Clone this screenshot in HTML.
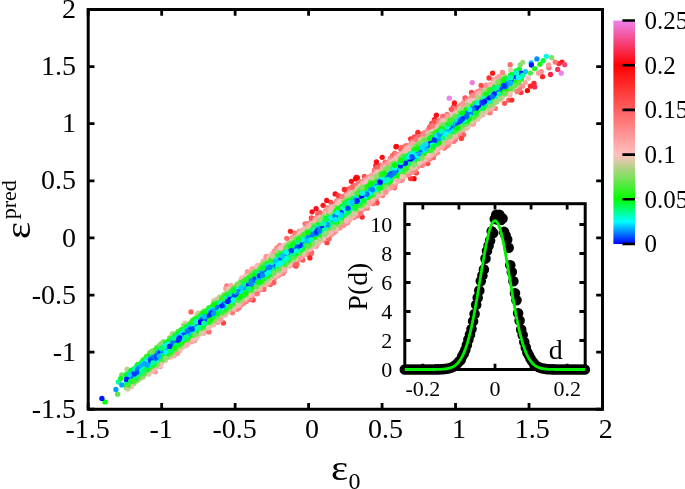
<!DOCTYPE html>
<html><head><meta charset="utf-8"><title>plot</title>
<style>html,body{margin:0;padding:0;background:#fff;overflow:hidden}svg{display:block}</style>
</head><body>
<svg width="685" height="489" viewBox="0 0 685 489">
<rect x="0" y="0" width="685" height="489" fill="#fff"/>
<defs><filter id="sf" x="0" y="0" width="685" height="489" filterUnits="userSpaceOnUse"><feGaussianBlur stdDeviation="0.45"/></filter></defs><g fill="none" stroke-width="5.3" stroke-linecap="round" filter="url(#sf)">
<path d="M477.5 119.2h0" stroke="#ffaeae"/>
<path d="M286.1 244.4h0" stroke="#ecc5b2"/>
<path d="M198.3 312.8h0" stroke="#eac5b0"/>
<path d="M305.1 223.8h0" stroke="#ff6464"/>
<path d="M339.2 197.9h0" stroke="#ff6e6e"/>
<path d="M126.5 378.4h0" stroke="#0065ff"/>
<path d="M205.0 310.8h0" stroke="#57ea41"/>
<path d="M240.1 282.1h0" stroke="#97da72"/>
<path d="M202.0 312.9h0" stroke="#63e64b"/>
<path d="M346.3 193.3h0" stroke="#ff7e7e"/>
<path d="M160.3 366.6h0" stroke="#ff9f9f"/>
<path d="M396.4 146.3h0" stroke="#fd0d18"/>
<path d="M531.1 62.8h0" stroke="#00c4ff"/>
<path d="M213.7 300.6h0" stroke="#f0c4b5"/>
<path d="M479.1 116.7h0" stroke="#f5c2b9"/>
<path d="M117.6 394.2h0" stroke="#5de846"/>
<path d="M562.0 62.1h0" stroke="#ff1d1d"/>
<path d="M450.7 140.9h0" stroke="#ff9e9e"/>
<path d="M363.4 209.1h0" stroke="#f99"/>
<path d="M510.4 74.8h0" stroke="#1bf814"/>
<path d="M427.4 131.0h0" stroke="#ff8b8b"/>
<path d="M422.9 133.7h0" stroke="#ff7c7c"/>
<path d="M213.3 303.6h0" stroke="#78e15a"/>
<path d="M396.0 146.8h0" stroke="#fe070d"/>
<path d="M347.7 189.4h0" stroke="#ff5050"/>
<path d="M357.3 177.7h0" stroke="#ff0707"/>
<path d="M411.4 143.4h0" stroke="#ff8a8a"/>
<path d="M437.6 152.4h0" stroke="#ff8989"/>
<path d="M364.4 176.5h0" stroke="#ff5050"/>
<path d="M510.7 70.1h0" stroke="#e1c7aa"/>
<path d="M401.8 147.4h0" stroke="#ff5151"/>
<path d="M289.7 265.7h0" stroke="#ffa4a4"/>
<path d="M431.8 123.3h0" stroke="#ff4242"/>
<path d="M445.4 147.2h0" stroke="#ff7b7b"/>
<path d="M510.6 90.7h0" stroke="#b6d289"/>
<path d="M440.0 120.2h0" stroke="#ff7979"/>
<path d="M467.9 126.8h0" stroke="#ffabab"/>
<path d="M134.3 368.6h0" stroke="#00ff52"/>
<path d="M416.4 172.9h0" stroke="#ff4545"/>
<path d="M308.5 223.9h0" stroke="#ff9393"/>
<path d="M434.5 119.4h0" stroke="#ff2424"/>
<path d="M496.7 101.9h0" stroke="#c7ce96"/>
<path d="M369.6 203.6h0" stroke="#ffa5a5"/>
<path d="M170.9 357.0h0" stroke="#ffb6b6"/>
<path d="M401.2 153.3h0" stroke="#ffabab"/>
<path d="M192.4 320.5h0" stroke="#5de846"/>
<path d="M508.7 100.1h0" stroke="#ff5656"/>
<path d="M270.4 284.5h0" stroke="#ff6464"/>
<path d="M515.2 82.8h0" stroke="#00ff14"/>
<path d="M531.4 65.0h0" stroke="#0015ff"/>
<path d="M214.7 302.2h0" stroke="#87de66"/>
<path d="M333.6 204.5h0" stroke="#ff9494"/>
<path d="M336.6 200.9h0" stroke="#ff7f7f"/>
<path d="M474.1 120.5h0" stroke="#f7c2ba"/>
<path d="M292.4 264.4h0" stroke="#ff9696"/>
<path d="M308.1 254.6h0" stroke="#ff6f6f"/>
<path d="M289.0 266.0h0" stroke="#ffa9a9"/>
<path d="M126.4 387.7h0" stroke="#6ee453"/>
<path d="M137.5 380.3h0" stroke="#a1d77a"/>
<path d="M118.3 382.0h0" stroke="#00ffa6"/>
<path d="M449.3 98.2h0" stroke="#ee82ee"/>
<path d="M142.5 361.2h0" stroke="#06fd05"/>
<path d="M542.5 76.7h0" stroke="#ff2626"/>
<path d="M241.2 278.8h0" stroke="#ffbebe"/>
<path d="M436.4 115.2h0" stroke="#fd0d18"/>
<path d="M284.7 270.9h0" stroke="#ff8e8e"/>
<path d="M332.6 204.8h0" stroke="#ff8c8c"/>
<path d="M126.5 375.6h0" stroke="#00ffa7"/>
<path d="M382.2 157.3h0" stroke="#fd0d18"/>
<path d="M353.6 217.7h0" stroke="#ff8787"/>
<path d="M311.1 221.2h0" stroke="#ff8686"/>
<path d="M188.4 343.0h0" stroke="#ffbcbc"/>
<path d="M356.9 216.0h0" stroke="#ff7878"/>
<path d="M299.0 231.4h0" stroke="#ff9494"/>
<path d="M344.3 189.5h0" stroke="#ff2525"/>
<path d="M253.0 294.8h0" stroke="#ff9c9c"/>
<path d="M226.7 286.0h0" stroke="#ff7979"/>
<path d="M155.2 371.8h0" stroke="#ff8a8a"/>
<path d="M486.2 85.2h0" stroke="#f88"/>
<path d="M390.6 158.2h0" stroke="#ff7373"/>
<path d="M392.4 155.6h0" stroke="#ff6060"/>
<path d="M115.9 389.5h0" stroke="#009fff"/>
<path d="M312.8 246.7h0" stroke="#ffb5b5"/>
<path d="M488.5 112.3h0" stroke="#ff9191"/>
<path d="M473.6 122.9h0" stroke="#ffa2a2"/>
<path d="M521.6 73.1h0" stroke="#0040ff"/>
<path d="M177.9 331.7h0" stroke="#5de846"/>
<path d="M194.7 340.4h0" stroke="#ff9595"/>
<path d="M179.8 350.6h0" stroke="#ffaeae"/>
<path d="M261.1 289.5h0" stroke="#ff8a8a"/>
<path d="M513.8 89.2h0" stroke="#e5c7ac"/>
<path d="M525.3 82.6h0" stroke="#ffa4a4"/>
<path d="M516.1 70.8h0" stroke="#06fd05"/>
<path d="M177.9 349.9h0" stroke="#d2cb9e"/>
<path d="M167.1 341.8h0" stroke="#14fa0f"/>
<path d="M266.7 284.3h0" stroke="#f99"/>
<path d="M213.6 304.8h0" stroke="#3af12b"/>
<path d="M394.7 153.5h0" stroke="#ff5a5a"/>
<path d="M137.4 364.9h0" stroke="#10fb0c"/>
<path d="M441.2 120.3h0" stroke="#ff8b8b"/>
<path d="M517.4 79.0h0" stroke="#00ffd6"/>
<path d="M519.4 69.1h0" stroke="#00ff40"/>
<path d="M213.7 324.5h0" stroke="#faa"/>
<path d="M313.5 222.1h0" stroke="#ffb6b6"/>
<path d="M530.4 86.2h0" stroke="#ff2525"/>
<path d="M410.6 138.9h0" stroke="#f33"/>
<path d="M517.8 84.5h0" stroke="#9cd975"/>
<path d="M455.0 107.0h0" stroke="#ff6161"/>
<path d="M104.9 401.9h0" stroke="#00ff07"/>
<path d="M306.1 226.0h0" stroke="#ff9797"/>
<path d="M390.1 160.4h0" stroke="#ff9292"/>
<path d="M511.6 79.2h0" stroke="#05f"/>
<path d="M466.5 128.0h0" stroke="#ffa8a8"/>
<path d="M528.2 78.2h0" stroke="#eac5b0"/>
<path d="M520.2 64.8h0" stroke="#86de65"/>
<path d="M225.7 288.6h0" stroke="#f99"/>
<path d="M558.8 63.6h0" stroke="#ff2e2e"/>
<path d="M182.2 347.6h0" stroke="#fec0bf"/>
<path d="M536.9 58.9h0" stroke="#008eff"/>
<path d="M527.4 90.6h0" stroke="#ff0202"/>
<path d="M272.2 254.0h0" stroke="#ffb2b2"/>
<path d="M289.6 265.4h0" stroke="#faa"/>
<path d="M411.9 141.5h0" stroke="#ff7171"/>
<path d="M463.3 102.8h0" stroke="#ff8585"/>
<path d="M405.6 175.4h0" stroke="#ffa9a9"/>
<path d="M274.6 255.9h0" stroke="#7ce05d"/>
<path d="M402.5 179.5h0" stroke="#ff8c8c"/>
<path d="M444.4 148.0h0" stroke="#ff7a7a"/>
<path d="M127.1 369.2h0" stroke="#b7d28a"/>
<path d="M232.5 312.8h0" stroke="#ff7878"/>
<path d="M265.8 285.0h0" stroke="#ff9898"/>
<path d="M336.7 202.0h0" stroke="#ff9393"/>
<path d="M449.3 116.7h0" stroke="#ffbaba"/>
<path d="M541.3 71.6h0" stroke="#ff8c8c"/>
<path d="M530.4 73.1h0" stroke="#53eb3e"/>
<path d="M476.7 92.4h0" stroke="#ff8686"/>
<path d="M356.2 177.5h0" stroke="#fd0d18"/>
<path d="M206.2 331.1h0" stroke="#ff9c9c"/>
<path d="M289.1 240.8h0" stroke="#ffb3b3"/>
<path d="M368.1 177.2h0" stroke="#ff8c8c"/>
<path d="M441.2 147.2h0" stroke="#ffb0b0"/>
<path d="M211.4 325.2h0" stroke="#fbb"/>
<path d="M516.0 82.2h0" stroke="#00ff10"/>
<path d="M367.9 177.7h0" stroke="#ff9191"/>
<path d="M515.5 73.6h0" stroke="#00ffc1"/>
<path d="M317.6 213.9h0" stroke="#ff6161"/>
<path d="M473.7 120.7h0" stroke="#eec4b3"/>
<path d="M200.8 314.7h0" stroke="#3af12c"/>
<path d="M476.8 118.2h0" stroke="#ecc5b1"/>
<path d="M172.6 333.7h0" stroke="#bfd090"/>
<path d="M306.5 254.0h0" stroke="#ff8f8f"/>
<path d="M510.2 64.7h0" stroke="#ff6969"/>
<path d="M355.6 185.3h0" stroke="#ff7272"/>
<path d="M465.1 97.9h0" stroke="#ff4b4b"/>
<path d="M534.0 83.3h0" stroke="#ff2626"/>
<path d="M169.7 338.0h0" stroke="#64e64b"/>
<path d="M338.4 201.2h0" stroke="#ff9c9c"/>
<path d="M335.2 205.4h0" stroke="#ffb9b9"/>
<path d="M510.5 78.1h0" stroke="#00fff7"/>
<path d="M463.6 128.3h0" stroke="#e3c7ab"/>
<path d="M146.4 356.5h0" stroke="#51eb3d"/>
<path d="M510.7 77.2h0" stroke="#00ffb6"/>
<path d="M181.0 329.9h0" stroke="#47ed35"/>
<path d="M465.4 98.7h0" stroke="#ff5c5c"/>
<path d="M407.4 145.6h0" stroke="#ff7a7a"/>
<path d="M495.3 108.4h0" stroke="#ff7a7a"/>
<path d="M453.9 141.3h0" stroke="#ff6e6e"/>
<path d="M401.0 180.5h0" stroke="#ff8e8e"/>
<path d="M485.1 86.6h0" stroke="#ff9292"/>
<path d="M174.0 334.1h0" stroke="#79e15b"/>
<path d="M504.7 76.2h0" stroke="#a2d77a"/>
<path d="M203.6 333.2h0" stroke="#ff9b9b"/>
<path d="M183.6 325.2h0" stroke="#b8d18b"/>
<path d="M402.8 148.1h0" stroke="#ff6868"/>
<path d="M414.5 136.9h0" stroke="#f44"/>
<path d="M367.3 208.2h0" stroke="#ff7575"/>
<path d="M509.2 78.0h0" stroke="#00ff95"/>
<path d="M260.6 265.2h0" stroke="#c0d091"/>
<path d="M194.4 318.9h0" stroke="#5ce845"/>
<path d="M327.7 207.8h0" stroke="#ff7f7f"/>
<path d="M237.0 284.4h0" stroke="#9dd876"/>
<path d="M178.8 333.1h0" stroke="#0f0"/>
<path d="M516.3 76.8h0" stroke="#0019ff"/>
<path d="M288.1 243.9h0" stroke="#bfd090"/>
<path d="M243.7 303.3h0" stroke="#ff8686"/>
<path d="M507.7 78.7h0" stroke="#00ff68"/>
<path d="M276.8 247.9h0" stroke="#f88"/>
<path d="M520.9 92.5h0" stroke="#ff3737"/>
<path d="M213.5 322.9h0" stroke="#efc4b4"/>
<path d="M177.1 351.7h0" stroke="#ffbdbd"/>
<path d="M200.0 334.0h0" stroke="#ffbdbd"/>
<path d="M470.0 124.5h0" stroke="#ffb5b5"/>
<path d="M453.0 139.9h0" stroke="#ff9191"/>
<path d="M457.5 136.3h0" stroke="#ff9494"/>
<path d="M452.6 114.6h0" stroke="#ffc0c0"/>
<path d="M401.2 153.9h0" stroke="#ffb6b6"/>
<path d="M286.5 266.5h0" stroke="#ffc0c0"/>
<path d="M197.1 316.1h0" stroke="#7de05e"/>
<path d="M364.9 179.6h0" stroke="#ff8b8b"/>
<path d="M167.1 357.8h0" stroke="#bcd18e"/>
<path d="M509.9 94.4h0" stroke="#ffa7a7"/>
<path d="M367.6 179.6h0" stroke="#ffadad"/>
<path d="M209.6 307.6h0" stroke="#49ed37"/>
<path d="M551.8 57.7h0" stroke="#8add68"/>
<path d="M312.1 211.8h0" stroke="#fd0d18"/>
<path d="M349.3 219.9h0" stroke="#ff9c9c"/>
<path d="M500.5 78.5h0" stroke="#cbcd99"/>
<path d="M405.4 145.9h0" stroke="#f66"/>
<path d="M317.3 218.1h0" stroke="#ffa4a4"/>
<path d="M309.0 252.2h0" stroke="#ff8b8b"/>
<path d="M380.1 165.5h0" stroke="#f66"/>
<path d="M136.6 381.1h0" stroke="#a7d67e"/>
<path d="M270.8 282.1h0" stroke="#ff8787"/>
<path d="M126.4 380.4h0" stroke="#0051ff"/>
<path d="M121.8 375.0h0" stroke="#6ce451"/>
<path d="M358.1 214.3h0" stroke="#ff8787"/>
<path d="M434.9 154.3h0" stroke="#ff8d8d"/>
<path d="M153.3 371.0h0" stroke="#ffafaf"/>
<path d="M486.7 85.4h0" stroke="#ff9393"/>
<path d="M460.6 133.7h0" stroke="#ff9797"/>
<path d="M349.2 188.9h0" stroke="#ff5b5b"/>
<path d="M176.4 334.9h0" stroke="#04fe03"/>
<path d="M184.9 325.2h0" stroke="#8fdc6b"/>
<path d="M174.1 355.6h0" stroke="#ffa4a4"/>
<path d="M237.2 284.9h0" stroke="#7fe060"/>
<path d="M366.8 206.5h0" stroke="#ff9797"/>
<path d="M555.2 62.1h0" stroke="#ff7676"/>
<path d="M516.9 71.2h0" stroke="#00ff52"/>
<path d="M336.0 204.8h0" stroke="#ffbaba"/>
<path d="M463.2 130.6h0" stroke="#ffa9a9"/>
<path d="M364.5 181.7h0" stroke="#ffa9a9"/>
<path d="M376.5 200.7h0" stroke="#ff7979"/>
<path d="M337.7 228.5h0" stroke="#ffa2a2"/>
<path d="M463.6 134.8h0" stroke="#ff5b5b"/>
<path d="M134.0 383.4h0" stroke="#b1d385"/>
<path d="M481.1 85.5h0" stroke="#ff4c4c"/>
<path d="M261.2 285.0h0" stroke="#cccd9a"/>
<path d="M473.3 124.0h0" stroke="#ff9494"/>
<path d="M316.2 246.3h0" stroke="#ff9090"/>
<path d="M237.1 309.2h0" stroke="#ff7979"/>
<path d="M241.4 302.3h0" stroke="#ffb5b5"/>
<path d="M256.0 267.5h0" stroke="#fbc1bd"/>
<path d="M557.7 69.4h0" stroke="#f8335d"/>
<path d="M455.5 139.6h0" stroke="#ff7676"/>
<path d="M521.3 79.2h0" stroke="#29f51f"/>
<path d="M484.6 90.3h0" stroke="#e8c6ae"/>
<path d="M373.2 203.7h0" stroke="#ff7474"/>
<path d="M136.7 366.4h0" stroke="#00ff38"/>
<path d="M230.8 285.5h0" stroke="#ffa8a8"/>
<path d="M434.8 121.4h0" stroke="#ff4a4a"/>
<path d="M312.3 218.3h0" stroke="#f66"/>
<path d="M453.4 106.9h0" stroke="#ff4a4a"/>
<path d="M140.1 378.4h0" stroke="#acd482"/>
<path d="M412.9 142.4h0" stroke="#ff8d8d"/>
<path d="M239.0 307.8h0" stroke="#ff7878"/>
<path d="M394.5 187.8h0" stroke="#ff6868"/>
<path d="M525.5 71.6h0" stroke="#00c9ff"/>
<path d="M311.5 247.4h0" stroke="#ffbcbc"/>
<path d="M203.6 311.5h0" stroke="#6be550"/>
<path d="M405.4 147.4h0" stroke="#ff8080"/>
<path d="M427.8 163.6h0" stroke="#ff4c4c"/>
<path d="M101.9 398.4h0" stroke="#0012ff"/>
<path d="M515.2 85.4h0" stroke="#68e54e"/>
<path d="M126.6 382.3h0" stroke="#00fffb"/>
<path d="M126.9 386.7h0" stroke="#51eb3d"/>
<path d="M467.3 100.6h0" stroke="#ff9595"/>
<path d="M509.7 86.2h0" stroke="#00ff69"/>
<path d="M564.7 64.7h0" stroke="#f6447c"/>
<path d="M127.4 388.4h0" stroke="#add483"/>
<path d="M215.4 321.6h0" stroke="#f4c3b7"/>
<path d="M191.5 322.0h0" stroke="#38f12a"/>
<path d="M330.1 208.1h0" stroke="#ffa2a2"/>
<path d="M136.4 368.6h0" stroke="#00ffe4"/>
<path d="M389.6 161.0h0" stroke="#ff9696"/>
<path d="M377.1 203.1h0" stroke="#ff4949"/>
<path d="M214.7 304.1h0" stroke="#34f227"/>
<path d="M155.5 367.3h0" stroke="#d0cc9c"/>
<path d="M322.6 240.2h0" stroke="#ffa3a3"/>
<path d="M473.6 95.6h0" stroke="#ff9393"/>
<path d="M278.3 275.8h0" stroke="#ff9191"/>
<path d="M142.1 377.3h0" stroke="#c0d090"/>
<path d="M340.9 198.3h0" stroke="#ff8c8c"/>
<path d="M522.3 86.2h0" stroke="#ff8f8f"/>
<path d="M280.3 274.0h0" stroke="#ff9393"/>
<path d="M408.1 147.0h0" stroke="#ff9c9c"/>
<path d="M493.3 79.9h0" stroke="#ff8c8c"/>
<path d="M347.1 195.3h0" stroke="#faa"/>
<path d="M511.9 74.6h0" stroke="#00ff1f"/>
<path d="M242.2 299.7h0" stroke="#c4cf93"/>
<path d="M306.5 227.2h0" stroke="#ffb0b0"/>
<path d="M211.0 324.9h0" stroke="#f0c4b5"/>
<path d="M283.0 273.4h0" stroke="#ff7a7a"/>
<path d="M368.4 177.2h0" stroke="#ff9090"/>
<path d="M223.4 323.0h0" stroke="#f44"/>
<path d="M351.1 217.7h0" stroke="#ffa9a9"/>
<path d="M454.4 103.0h0" stroke="#ff1515"/>
<path d="M422.1 165.4h0" stroke="#ff7979"/>
<path d="M504.6 103.3h0" stroke="#ff5656"/>
<path d="M240.4 301.0h0" stroke="#c5ce94"/>
<path d="M228.0 311.9h0" stroke="#fbc1bd"/>
<path d="M197.3 314.2h0" stroke="#cacd98"/>
<path d="M509.0 78.4h0" stroke="#00ffab"/>
<path d="M126.7 380.2h0" stroke="#004cff"/>
<path d="M505.4 94.5h0" stroke="#abd580"/>
<path d="M423.3 162.0h0" stroke="#ffa1a1"/>
<path d="M286.0 266.3h0" stroke="#e2c7aa"/>
<path d="M149.5 353.0h0" stroke="#83df63"/>
<path d="M496.6 78.4h0" stroke="#ff9f9f"/>
<path d="M318.2 243.3h0" stroke="#ffa8a8"/>
<path d="M427.8 131.0h0" stroke="#ff9090"/>
<path d="M355.5 178.9h0" stroke="#ff0303"/>
<path d="M263.9 289.4h0" stroke="#ff6767"/>
<path d="M509.3 93.1h0" stroke="#f3c3b7"/>
<path d="M330.5 208.1h0" stroke="#ffa9a9"/>
<path d="M519.5 89.6h0" stroke="#ff7a7a"/>
<path d="M335.2 193.9h0" stroke="#fd0d18"/>
<path d="M494.6 80.1h0" stroke="#ffa2a2"/>
<path d="M165.2 360.7h0" stroke="#f7c2ba"/>
<path d="M362.1 217.0h0" stroke="#ff2525"/>
<path d="M219.6 296.9h0" stroke="#cacd98"/>
<path d="M279.7 245.3h0" stroke="#ff8181"/>
<path d="M512.6 88.9h0" stroke="#aad580"/>
<path d="M171.4 354.4h0" stroke="#b5d289"/>
<path d="M246.4 301.5h0" stroke="#ff8181"/>
<path d="M278.8 273.6h0" stroke="#ffaeae"/>
<path d="M400.7 149.1h0" stroke="#ff5d5d"/>
<path d="M348.3 219.4h0" stroke="#ffb0b0"/>
<path d="M461.1 104.9h0" stroke="#ff8b8b"/>
<path d="M361.4 210.5h0" stroke="#ff9a9a"/>
<path d="M374.5 197.0h0" stroke="#cccd9a"/>
<path d="M206.4 330.3h0" stroke="#ffa7a7"/>
<path d="M430.5 126.5h0" stroke="#ff6868"/>
<path d="M424.7 132.7h0" stroke="#ff8484"/>
<path d="M361.9 207.3h0" stroke="#e5c6ac"/>
<path d="M367.6 204.9h0" stroke="#ffa8a8"/>
<path d="M333.6 232.9h0" stroke="#ff8e8e"/>
<path d="M336.4 206.7h0" stroke="#b1d385"/>
<path d="M387.7 162.3h0" stroke="#ff9191"/>
<path d="M548.9 67.7h0" stroke="#ff6a6a"/>
<path d="M359.9 210.0h0" stroke="#ffb8b8"/>
<path d="M227.5 311.6h0" stroke="#dac9a4"/>
<path d="M270.1 279.2h0" stroke="#fac1bc"/>
<path d="M222.0 297.4h0" stroke="#5ee847"/>
<path d="M335.5 231.4h0" stroke="#ff8e8e"/>
<path d="M126.9 384.8h0" stroke="#00ff02"/>
<path d="M398.3 178.7h0" stroke="#d6caa1"/>
<path d="M343.4 225.5h0" stroke="#ff8b8b"/>
<path d="M493.3 83.4h0" stroke="#eac5b0"/>
<path d="M168.3 356.9h0" stroke="#bed08f"/>
<path d="M163.3 341.7h0" stroke="#99d973"/>
<path d="M168.5 341.3h0" stroke="#0f1"/>
<path d="M417.3 167.2h0" stroke="#ff9898"/>
<path d="M350.4 189.8h0" stroke="#ff7878"/>
<path d="M489.0 78.0h0" stroke="#ff3434"/>
<path d="M480.2 116.0h0" stroke="#ffbfbf"/>
<path d="M194.4 320.4h0" stroke="#1bf815"/>
<path d="M438.2 121.3h0" stroke="#ff7575"/>
<path d="M376.0 195.6h0" stroke="#c2cf92"/>
<path d="M214.2 321.7h0" stroke="#d0cc9d"/>
<path d="M136.6 380.4h0" stroke="#88dd67"/>
<path d="M433.3 157.7h0" stroke="#ff6868"/>
<path d="M137.8 367.8h0" stroke="#00fff6"/>
<path d="M400.6 176.7h0" stroke="#cccc9a"/>
<path d="M510.2 82.6h0" stroke="#0078ff"/>
<path d="M320.2 239.9h0" stroke="#e9c5b0"/>
<path d="M485.9 111.9h0" stroke="#ffbaba"/>
<path d="M516.8 76.7h0" stroke="#0035ff"/>
<path d="M490.6 87.2h0" stroke="#a1d779"/>
<path d="M405.2 150.1h0" stroke="#faa"/>
<path d="M414.4 143.1h0" stroke="#ffacac"/>
<path d="M279.0 249.5h0" stroke="#ffbfbf"/>
<path d="M546.4 56.3h0" stroke="#00ffe1"/>
<path d="M444.1 147.8h0" stroke="#ff8080"/>
<path d="M156.8 347.5h0" stroke="#79e15b"/>
<path d="M426.6 159.9h0" stroke="#f99"/>
<path d="M195.8 318.5h0" stroke="#41ef31"/>
<path d="M154.4 369.2h0" stroke="#ffc0c0"/>
<path d="M297.7 260.1h0" stroke="#f99"/>
<path d="M133.6 381.2h0" stroke="#45ee34"/>
<path d="M121.8 384.9h0" stroke="#009eff"/>
<path d="M165.8 342.6h0" stroke="#1ff717"/>
<path d="M337.5 204.4h0" stroke="#edc4b2"/>
<path d="M234.7 287.5h0" stroke="#5fe748"/>
<path d="M152.0 371.4h0" stroke="#ffbaba"/>
<path d="M447.1 114.4h0" stroke="#ff7474"/>
<path d="M363.6 182.0h0" stroke="#ffa2a2"/>
<path d="M518.2 77.7h0" stroke="#00f3ff"/>
<path d="M507.6 89.1h0" stroke="#03fe02"/>
<path d="M505.3 78.6h0" stroke="#1ef817"/>
<path d="M241.3 280.8h0" stroke="#aad580"/>
<path d="M145.4 359.0h0" stroke="#04fe03"/>
<path d="M338.2 195.6h0" stroke="#ff3b3b"/>
<path d="M241.1 305.0h0" stroke="#ff8b8b"/>
<path d="M161.3 363.9h0" stroke="#ffbfbf"/>
<path d="M298.2 234.0h0" stroke="#ffb7b7"/>
<path d="M436.5 149.8h0" stroke="#f9c1bc"/>
<path d="M397.6 179.2h0" stroke="#d2cb9e"/>
<path d="M471.5 92.4h0" stroke="#ff4141"/>
<path d="M199.5 333.2h0" stroke="#d4cb9f"/>
<path d="M384.6 164.6h0" stroke="#ff9090"/>
<path d="M321.5 213.4h0" stroke="#ff8c8c"/>
<path d="M372.0 175.4h0" stroke="#ffa1a1"/>
<path d="M203.2 313.4h0" stroke="#21f719"/>
<path d="M482.6 90.6h0" stroke="#ffb5b5"/>
<path d="M227.9 309.7h0" stroke="#96da71"/>
<path d="M173.0 337.1h0" stroke="#16fa10"/>
<path d="M232.4 289.4h0" stroke="#5de846"/>
<path d="M190.0 341.8h0" stroke="#fbb"/>
<path d="M290.6 241.3h0" stroke="#d9c9a4"/>
<path d="M454.8 110.4h0" stroke="#ff9696"/>
<path d="M262.5 262.9h0" stroke="#e8c6af"/>
<path d="M451.0 119.0h0" stroke="#70e355"/>
<path d="M292.3 237.1h0" stroke="#ff9d9d"/>
<path d="M382.7 195.6h0" stroke="#ff7f7f"/>
<path d="M453.1 111.5h0" stroke="#ff9393"/>
<path d="M275.0 278.2h0" stroke="#ff9191"/>
<path d="M514.5 86.0h0" stroke="#6de452"/>
<path d="M178.1 348.2h0" stroke="#8cdc69"/>
<path d="M143.5 377.1h0" stroke="#e4c7ac"/>
<path d="M159.8 365.6h0" stroke="#ffb6b6"/>
<path d="M325.6 210.6h0" stroke="#ff9393"/>
<path d="M510.4 77.5h0" stroke="#00ffbe"/>
<path d="M311.5 253.3h0" stroke="#ff5858"/>
<path d="M273.0 276.1h0" stroke="#d8caa2"/>
<path d="M468.9 125.2h0" stroke="#ffb9b9"/>
<path d="M217.6 301.1h0" stroke="#50eb3c"/>
<path d="M338.9 223.9h0" stroke="#aad580"/>
<path d="M506.9 85.8h0" stroke="#00b7ff"/>
<path d="M299.8 258.9h0" stroke="#ff9292"/>
<path d="M490.1 112.8h0" stroke="#ff7474"/>
<path d="M331.4 234.5h0" stroke="#ff9090"/>
<path d="M353.4 186.1h0" stroke="#ff6262"/>
<path d="M465.2 126.4h0" stroke="#c6ce95"/>
<path d="M201.7 315.3h0" stroke="#0f0"/>
<path d="M480.5 90.1h0" stroke="#ff9292"/>
<path d="M441.4 121.5h0" stroke="#ffa2a2"/>
<path d="M263.1 260.8h0" stroke="#ffaeae"/>
<path d="M395.2 184.9h0" stroke="#ff9191"/>
<path d="M385.1 162.1h0" stroke="#ff6b6b"/>
<path d="M295.5 259.4h0" stroke="#fac1bc"/>
<path d="M194.4 339.3h0" stroke="#ffacac"/>
<path d="M284.4 270.1h0" stroke="#ffa0a0"/>
<path d="M414.9 171.0h0" stroke="#ff7878"/>
<path d="M330.8 202.3h0" stroke="#ff4b4b"/>
<path d="M187.7 342.5h0" stroke="#d9c9a3"/>
<path d="M315.4 218.3h0" stroke="#ff8f8f"/>
<path d="M414.5 167.0h0" stroke="#fec0c0"/>
<path d="M453.3 108.6h0" stroke="#ff6464"/>
<path d="M534.7 86.9h0" stroke="#f92a4d"/>
<path d="M492.8 105.9h0" stroke="#f3c3b7"/>
<path d="M437.6 122.8h0" stroke="#ff8585"/>
<path d="M239.3 303.3h0" stroke="#ffbfbf"/>
<path d="M265.0 262.3h0" stroke="#aad580"/>
<path d="M294.1 262.5h0" stroke="#ffa1a1"/>
<path d="M196.7 319.3h0" stroke="#00ff0c"/>
<path d="M406.8 174.4h0" stroke="#ffa9a9"/>
<path d="M265.8 261.0h0" stroke="#c7ce96"/>
<path d="M212.5 306.2h0" stroke="#23f61b"/>
<path d="M199.2 317.0h0" stroke="#0efc0a"/>
<path d="M375.0 169.3h0" stroke="#ff6262"/>
<path d="M442.8 116.5h0" stroke="#ff5f5f"/>
<path d="M196.1 338.2h0" stroke="#ffa8a8"/>
<path d="M503.9 79.2h0" stroke="#37f12a"/>
<path d="M364.3 205.3h0" stroke="#dcc9a6"/>
<path d="M301.7 230.8h0" stroke="#ffadad"/>
<path d="M437.1 125.6h0" stroke="#ffaeae"/>
<path d="M499.1 76.4h0" stroke="#ff9d9d"/>
<path d="M432.4 130.1h0" stroke="#ffbebe"/>
<path d="M422.3 134.3h0" stroke="#ff7f7f"/>
<path d="M358.6 210.4h0" stroke="#f7c2ba"/>
<path d="M319.6 212.5h0" stroke="#ff6363"/>
<path d="M311.5 252.3h0" stroke="#ff6969"/>
<path d="M354.4 187.3h0" stroke="#ff8383"/>
<path d="M463.5 103.2h0" stroke="#ff9090"/>
<path d="M306.5 224.0h0" stroke="#ff7a7a"/>
<path d="M410.9 146.2h0" stroke="#ffb2b2"/>
<path d="M202.7 331.9h0" stroke="#ffbdbd"/>
<path d="M534.7 68.7h0" stroke="#23f61b"/>
<path d="M180.3 330.9h0" stroke="#30f324"/>
<path d="M429.6 159.2h0" stroke="#ff8080"/>
<path d="M493.7 86.2h0" stroke="#60e748"/>
<path d="M217.0 299.1h0" stroke="#c0cf91"/>
<path d="M241.3 299.7h0" stroke="#a5d67c"/>
<path d="M414.1 178.7h0" stroke="#f00"/>
<path d="M251.0 275.2h0" stroke="#53ea3f"/>
<path d="M391.7 158.0h0" stroke="#ff7e7e"/>
<path d="M492.5 105.3h0" stroke="#cbcd99"/>
<path d="M434.2 124.9h0" stroke="#ff7d7d"/>
<path d="M327.0 242.7h0" stroke="#ff4040"/>
<path d="M147.5 356.3h0" stroke="#34f227"/>
<path d="M447.6 116.4h0" stroke="#ff9d9d"/>
<path d="M322.3 238.2h0" stroke="#e9c5b0"/>
<path d="M156.1 349.0h0" stroke="#50eb3c"/>
<path d="M381.8 193.6h0" stroke="#ffacac"/>
<path d="M339.4 201.1h0" stroke="#ffa7a7"/>
<path d="M167.7 356.7h0" stroke="#9cd876"/>
<path d="M276.5 254.1h0" stroke="#87de65"/>
<path d="M268.5 258.6h0" stroke="#d5caa1"/>
<path d="M273.8 282.6h0" stroke="#ff5757"/>
<path d="M470.3 99.1h0" stroke="#ffa3a3"/>
<path d="M174.6 354.0h0" stroke="#ffb8b8"/>
<path d="M185.4 323.1h0" stroke="#dac9a4"/>
<path d="M357.7 210.2h0" stroke="#d4cba0"/>
<path d="M211.2 324.2h0" stroke="#dac9a4"/>
<path d="M158.0 348.6h0" stroke="#20f718"/>
<path d="M500.7 80.8h0" stroke="#61e749"/>
<path d="M286.1 265.3h0" stroke="#b9d18c"/>
<path d="M286.8 238.3h0" stroke="#ff6969"/>
<path d="M358.0 208.6h0" stroke="#95da70"/>
<path d="M493.7 86.6h0" stroke="#51eb3d"/>
<path d="M500.7 100.0h0" stroke="#fcc1be"/>
<path d="M246.6 299.3h0" stroke="#ffa4a4"/>
<path d="M150.6 355.1h0" stroke="#00ff02"/>
<path d="M416.1 139.4h0" stroke="#ff8383"/>
<path d="M163.2 360.4h0" stroke="#a7d67d"/>
<path d="M374.4 170.7h0" stroke="#ff7171"/>
<path d="M161.5 361.0h0" stroke="#85de64"/>
<path d="M373.1 197.4h0" stroke="#aed483"/>
<path d="M273.6 275.7h0" stroke="#d6caa1"/>
<path d="M433.7 122.6h0" stroke="#ff4f4f"/>
<path d="M172.9 353.3h0" stroke="#bdd08e"/>
<path d="M491.2 88.5h0" stroke="#50eb3c"/>
<path d="M198.6 319.1h0" stroke="#00ff75"/>
<path d="M484.1 112.3h0" stroke="#e5c6ac"/>
<path d="M245.8 298.8h0" stroke="#ffb6b6"/>
<path d="M539.9 64.3h0" stroke="#13fa0f"/>
<path d="M337.3 206.2h0" stroke="#a7d67e"/>
<path d="M157.7 351.3h0" stroke="#00ff9a"/>
<path d="M182.8 346.7h0" stroke="#ecc5b1"/>
<path d="M184.8 346.0h0" stroke="#ffb9b9"/>
<path d="M150.5 370.1h0" stroke="#9fd877"/>
<path d="M172.3 334.0h0" stroke="#b9d18b"/>
<path d="M467.5 125.6h0" stroke="#f6c2b9"/>
<path d="M490.9 109.8h0" stroke="#ff9d9d"/>
<path d="M458.7 131.6h0" stroke="#cfcc9c"/>
<path d="M477.8 93.4h0" stroke="#ffa5a5"/>
<path d="M217.9 322.3h0" stroke="#ff9797"/>
<path d="M154.6 365.6h0" stroke="#65e64c"/>
<path d="M264.6 284.3h0" stroke="#ffb4b4"/>
<path d="M164.9 343.8h0" stroke="#07fd05"/>
<path d="M228.9 309.4h0" stroke="#abd580"/>
<path d="M217.7 302.9h0" stroke="#01ff01"/>
<path d="M510.8 88.6h0" stroke="#5ce845"/>
<path d="M127.3 378.4h0" stroke="#002cff"/>
<path d="M313.9 245.9h0" stroke="#ffb5b5"/>
<path d="M417.9 134.3h0" stroke="#ff4747"/>
<path d="M323.1 205.3h0" stroke="#ff1919"/>
<path d="M449.7 120.0h0" stroke="#73e357"/>
<path d="M441.1 122.3h0" stroke="#ffabab"/>
<path d="M379.5 194.0h0" stroke="#f3c3b7"/>
<path d="M254.4 290.7h0" stroke="#dcc9a5"/>
<path d="M427.6 131.9h0" stroke="#ff9c9c"/>
<path d="M287.1 264.8h0" stroke="#c8ce97"/>
<path d="M395.8 154.6h0" stroke="#ff7a7a"/>
<path d="M347.6 222.7h0" stroke="#ff8383"/>
<path d="M171.0 353.5h0" stroke="#82df62"/>
<path d="M482.9 114.9h0" stroke="#ffafaf"/>
<path d="M348.6 193.9h0" stroke="#ffa6a6"/>
<path d="M242.0 277.9h0" stroke="#ffbaba"/>
<path d="M339.8 228.0h0" stroke="#ff8f8f"/>
<path d="M360.9 181.6h0" stroke="#ff7979"/>
<path d="M185.0 325.9h0" stroke="#6be551"/>
<path d="M186.7 326.9h0" stroke="#04fe03"/>
<path d="M429.1 133.6h0" stroke="#dec8a7"/>
<path d="M218.7 320.4h0" stroke="#ffacac"/>
<path d="M161.1 343.6h0" stroke="#90db6d"/>
<path d="M358.1 183.5h0" stroke="#ff7575"/>
<path d="M483.9 111.0h0" stroke="#9ed877"/>
<path d="M143.3 375.2h0" stroke="#89dd67"/>
<path d="M519.2 82.0h0" stroke="#5ce845"/>
<path d="M245.4 279.2h0" stroke="#5ee847"/>
<path d="M234.4 288.8h0" stroke="#34f227"/>
<path d="M253.0 294.4h0" stroke="#ffa0a0"/>
<path d="M480.5 94.2h0" stroke="#c4cf93"/>
<path d="M488.6 90.4h0" stroke="#53eb3e"/>
<path d="M295.1 265.4h0" stroke="#ff6262"/>
<path d="M233.8 289.1h0" stroke="#3af12b"/>
<path d="M417.6 163.6h0" stroke="#d1cb9d"/>
<path d="M437.0 130.0h0" stroke="#6de452"/>
<path d="M392.8 182.3h0" stroke="#b8d28a"/>
<path d="M268.3 281.8h0" stroke="#ffaeae"/>
<path d="M373.1 203.4h0" stroke="#ff7979"/>
<path d="M258.1 291.1h0" stroke="#ff9696"/>
<path d="M120.6 378.6h0" stroke="#00ff16"/>
<path d="M233.8 309.2h0" stroke="#ffa4a4"/>
<path d="M191.0 311.9h0" stroke="#ff5b5b"/>
<path d="M355.9 213.1h0" stroke="#ffb6b6"/>
<path d="M314.1 220.6h0" stroke="#ffa5a5"/>
<path d="M240.9 282.7h0" stroke="#60e748"/>
<path d="M147.9 372.8h0" stroke="#bcd18d"/>
<path d="M189.8 324.3h0" stroke="#0afd07"/>
<path d="M486.6 91.3h0" stroke="#76e259"/>
<path d="M416.9 144.6h0" stroke="#9bd974"/>
<path d="M265.3 284.1h0" stroke="#ffaeae"/>
<path d="M467.2 103.7h0" stroke="#eac5b0"/>
<path d="M166.7 357.9h0" stroke="#afd484"/>
<path d="M359.7 207.6h0" stroke="#a3d77b"/>
<path d="M158.8 348.2h0" stroke="#17f911"/>
<path d="M384.3 165.6h0" stroke="#ff9d9d"/>
<path d="M238.0 305.9h0" stroke="#ffa3a3"/>
<path d="M356.6 188.8h0" stroke="#ffb9b9"/>
<path d="M234.3 307.9h0" stroke="#ffb3b3"/>
<path d="M294.9 233.2h0" stroke="#ff7d7d"/>
<path d="M140.6 376.4h0" stroke="#60e748"/>
<path d="M152.7 351.0h0" stroke="#6ce451"/>
<path d="M249.6 299.6h0" stroke="#f77"/>
<path d="M226.9 309.0h0" stroke="#52eb3d"/>
<path d="M159.8 350.6h0" stroke="#00fff2"/>
<path d="M360.2 185.9h0" stroke="#ffb8b8"/>
<path d="M310.9 224.5h0" stroke="#ffbcbc"/>
<path d="M150.3 368.4h0" stroke="#4feb3c"/>
<path d="M206.4 311.2h0" stroke="#12fa0e"/>
<path d="M148.8 374.2h0" stroke="#ffb5b5"/>
<path d="M331.0 231.7h0" stroke="#f4c3b8"/>
<path d="M472.9 123.5h0" stroke="#ffa1a1"/>
<path d="M253.2 300.0h0" stroke="#ff4242"/>
<path d="M143.6 359.7h0" stroke="#21f719"/>
<path d="M208.8 308.0h0" stroke="#52eb3d"/>
<path d="M426.7 134.4h0" stroke="#ffbaba"/>
<path d="M286.7 264.8h0" stroke="#bad18c"/>
<path d="M505.7 86.4h0" stroke="#0093ff"/>
<path d="M410.6 178.5h0" stroke="#ff3232"/>
<path d="M354.0 189.9h0" stroke="#ffa8a8"/>
<path d="M520.8 73.3h0" stroke="#0021ff"/>
<path d="M290.4 231.3h0" stroke="#ff2323"/>
<path d="M429.2 128.3h0" stroke="#ff7575"/>
<path d="M225.5 314.8h0" stroke="#ffb3b3"/>
<path d="M266.5 256.4h0" stroke="#ff9090"/>
<path d="M250.6 291.5h0" stroke="#7be05d"/>
<path d="M408.9 174.7h0" stroke="#ff8989"/>
<path d="M224.0 294.4h0" stroke="#a2d77a"/>
<path d="M281.0 273.5h0" stroke="#ff9393"/>
<path d="M498.3 98.1h0" stroke="#54ea3f"/>
<path d="M203.7 328.5h0" stroke="#92db6e"/>
<path d="M253.3 289.4h0" stroke="#7de05e"/>
<path d="M195.2 320.5h0" stroke="#00ff07"/>
<path d="M343.5 199.9h0" stroke="#e6c6ae"/>
<path d="M209.2 308.5h0" stroke="#2ef422"/>
<path d="M165.5 359.9h0" stroke="#ddc8a7"/>
<path d="M362.5 183.0h0" stroke="#ffa4a4"/>
<path d="M227.1 291.7h0" stroke="#aed483"/>
<path d="M402.7 175.8h0" stroke="#ebc5b1"/>
<path d="M300.1 257.7h0" stroke="#ffa4a4"/>
<path d="M454.7 137.1h0" stroke="#faa"/>
<path d="M177.4 353.6h0" stroke="#ff9a9a"/>
<path d="M316.1 208.7h0" stroke="#fd0d18"/>
<path d="M337.6 206.3h0" stroke="#99d973"/>
<path d="M497.0 83.3h0" stroke="#70e354"/>
<path d="M126.9 383.7h0" stroke="#00ff69"/>
<path d="M376.1 171.2h0" stroke="#ff9090"/>
<path d="M257.5 265.4h0" stroke="#ffb2b2"/>
<path d="M362.5 206.0h0" stroke="#bdd08e"/>
<path d="M309.9 257.9h0" stroke="#ff2020"/>
<path d="M406.9 148.9h0" stroke="#faa"/>
<path d="M351.4 181.3h0" stroke="#fd0d18"/>
<path d="M366.8 204.5h0" stroke="#ffbaba"/>
<path d="M299.0 234.6h0" stroke="#e4c7ab"/>
<path d="M187.4 341.2h0" stroke="#96da71"/>
<path d="M189.8 325.9h0" stroke="#00ff78"/>
<path d="M311.3 217.8h0" stroke="#ff5151"/>
<path d="M307.0 249.8h0" stroke="#dac9a4"/>
<path d="M430.8 130.0h0" stroke="#ffa6a6"/>
<path d="M418.2 143.5h0" stroke="#a0d779"/>
<path d="M469.3 122.0h0" stroke="#92db6e"/>
<path d="M295.8 238.2h0" stroke="#b2d386"/>
<path d="M260.1 287.1h0" stroke="#ffc0c0"/>
<path d="M223.8 315.5h0" stroke="#ffbdbd"/>
<path d="M250.6 290.8h0" stroke="#5fe847"/>
<path d="M337.0 224.5h0" stroke="#83df63"/>
<path d="M279.0 272.6h0" stroke="#ffbcbc"/>
<path d="M488.9 101.3h0" stroke="#00ffc6"/>
<path d="M501.3 87.6h0" stroke="#002dff"/>
<path d="M151.4 368.0h0" stroke="#61e749"/>
<path d="M159.7 360.7h0" stroke="#3af12c"/>
<path d="M303.4 254.9h0" stroke="#ffa8a8"/>
<path d="M434.2 151.6h0" stroke="#f7c2ba"/>
<path d="M390.8 161.2h0" stroke="#ffa8a8"/>
<path d="M463.0 128.2h0" stroke="#cccd99"/>
<path d="M375.8 165.3h0" stroke="#ff2929"/>
<path d="M244.4 297.7h0" stroke="#b8d18b"/>
<path d="M459.4 109.6h0" stroke="#f0c4b5"/>
<path d="M132.6 383.8h0" stroke="#99d973"/>
<path d="M372.8 197.7h0" stroke="#b1d385"/>
<path d="M371.2 196.9h0" stroke="#57ea41"/>
<path d="M281.0 247.6h0" stroke="#ffbaba"/>
<path d="M137.9 378.3h0" stroke="#58e943"/>
<path d="M289.8 264.1h0" stroke="#ffbdbd"/>
<path d="M149.1 368.2h0" stroke="#18f912"/>
<path d="M454.1 112.7h0" stroke="#ffb4b4"/>
<path d="M486.3 110.4h0" stroke="#dac9a4"/>
<path d="M227.6 294.0h0" stroke="#38f12a"/>
<path d="M128.0 381.9h0" stroke="#00ffba"/>
<path d="M266.0 256.9h0" stroke="#ff9393"/>
<path d="M416.9 145.6h0" stroke="#6fe454"/>
<path d="M132.5 381.8h0" stroke="#3af12c"/>
<path d="M309.6 249.2h0" stroke="#ffb4b4"/>
<path d="M389.8 188.0h0" stroke="#ffa2a2"/>
<path d="M171.2 339.6h0" stroke="#00ff31"/>
<path d="M325.4 213.1h0" stroke="#ffb9b9"/>
<path d="M305.4 250.2h0" stroke="#b7d28a"/>
<path d="M180.9 348.4h0" stroke="#f8c2ba"/>
<path d="M325.3 238.8h0" stroke="#ff9797"/>
<path d="M166.0 343.4h0" stroke="#00ff21"/>
<path d="M495.2 96.3h0" stroke="#00ffd3"/>
<path d="M477.9 91.4h0" stroke="#ff8585"/>
<path d="M303.2 229.6h0" stroke="#ffaeae"/>
<path d="M488.6 107.7h0" stroke="#aed483"/>
<path d="M494.7 93.0h0" stroke="#0017ff"/>
<path d="M317.9 243.2h0" stroke="#ffaeae"/>
<path d="M467.7 124.3h0" stroke="#c0d090"/>
<path d="M344.7 196.0h0" stroke="#ff9898"/>
<path d="M296.1 266.2h0" stroke="#ff4949"/>
<path d="M491.9 107.7h0" stroke="#ffb2b2"/>
<path d="M390.2 182.1h0" stroke="#53ea3f"/>
<path d="M503.0 93.0h0" stroke="#14fa0f"/>
<path d="M199.9 316.0h0" stroke="#1ef816"/>
<path d="M457.1 134.7h0" stroke="#ffb3b3"/>
<path d="M265.9 280.4h0" stroke="#9fd878"/>
<path d="M170.7 352.8h0" stroke="#58e943"/>
<path d="M495.6 82.0h0" stroke="#d8caa3"/>
<path d="M487.4 91.8h0" stroke="#42ef32"/>
<path d="M432.7 154.5h0" stroke="#ffa6a6"/>
<path d="M403.0 152.9h0" stroke="#fbb"/>
<path d="M369.1 203.1h0" stroke="#ffb3b3"/>
<path d="M478.9 116.2h0" stroke="#dbc9a5"/>
<path d="M206.5 311.9h0" stroke="#00ff1a"/>
<path d="M412.3 170.7h0" stroke="#ffa0a0"/>
<path d="M510.3 83.2h0" stroke="#00b2ff"/>
<path d="M269.3 257.3h0" stroke="#f4c3b8"/>
<path d="M500.2 87.6h0" stroke="#0082ff"/>
<path d="M226.7 308.4h0" stroke="#30f324"/>
<path d="M261.8 265.2h0" stroke="#96da71"/>
<path d="M165.1 344.8h0" stroke="#00ff5a"/>
<path d="M323.5 237.7h0" stroke="#fbc1bd"/>
<path d="M128.3 380.0h0" stroke="#00a5ff"/>
<path d="M205.2 328.0h0" stroke="#b3d387"/>
<path d="M202.2 316.0h0" stroke="#00ff5d"/>
<path d="M340.1 202.0h0" stroke="#ffbfbf"/>
<path d="M233.0 307.2h0" stroke="#d6caa1"/>
<path d="M318.2 222.8h0" stroke="#55ea40"/>
<path d="M439.4 126.2h0" stroke="#c2cf92"/>
<path d="M381.4 192.8h0" stroke="#fdc0bf"/>
<path d="M270.4 261.6h0" stroke="#10fb0c"/>
<path d="M126.7 374.2h0" stroke="#00ff30"/>
<path d="M371.7 175.5h0" stroke="#ff9f9f"/>
<path d="M393.7 160.7h0" stroke="#f2c3b7"/>
<path d="M483.1 108.3h0" stroke="#0bfc08"/>
<path d="M359.0 206.5h0" stroke="#59e943"/>
<path d="M265.5 262.4h0" stroke="#95da70"/>
<path d="M291.8 241.5h0" stroke="#abd581"/>
<path d="M376.0 173.7h0" stroke="#ffb8b8"/>
<path d="M367.3 202.6h0" stroke="#cbcd99"/>
<path d="M505.9 81.3h0" stroke="#00ffd8"/>
<path d="M263.4 264.0h0" stroke="#96da71"/>
<path d="M278.3 251.5h0" stroke="#c0d091"/>
<path d="M201.1 332.1h0" stroke="#dbc9a5"/>
<path d="M550.5 74.5h0" stroke="#fa2848"/>
<path d="M476.6 108.5h0" stroke="#0068ff"/>
<path d="M331.3 206.3h0" stroke="#ff9494"/>
<path d="M474.1 96.3h0" stroke="#ffa5a5"/>
<path d="M376.4 173.9h0" stroke="#fbc1bd"/>
<path d="M301.9 253.5h0" stroke="#d0cc9d"/>
<path d="M478.0 95.4h0" stroke="#eac5b0"/>
<path d="M315.3 219.5h0" stroke="#ffa2a2"/>
<path d="M284.7 265.3h0" stroke="#8bdd69"/>
<path d="M360.8 207.8h0" stroke="#d5caa0"/>
<path d="M304.9 230.4h0" stroke="#d2cb9e"/>
<path d="M260.1 289.1h0" stroke="#ff9d9d"/>
<path d="M292.3 240.5h0" stroke="#c2cf92"/>
<path d="M212.1 308.5h0" stroke="#00ff71"/>
<path d="M152.6 356.3h0" stroke="#00fff8"/>
<path d="M467.3 122.6h0" stroke="#64e64b"/>
<path d="M250.8 298.4h0" stroke="#ff7b7b"/>
<path d="M370.4 177.9h0" stroke="#ffb6b6"/>
<path d="M419.0 134.2h0" stroke="#ff5252"/>
<path d="M336.0 229.3h0" stroke="#ffacac"/>
<path d="M398.2 154.7h0" stroke="#ff9b9b"/>
<path d="M256.5 267.5h0" stroke="#e9c5af"/>
<path d="M484.4 91.2h0" stroke="#c3cf93"/>
<path d="M303.6 252.5h0" stroke="#ddc8a7"/>
<path d="M224.3 296.2h0" stroke="#45ee34"/>
<path d="M505.1 90.8h0" stroke="#00ff05"/>
<path d="M432.3 152.0h0" stroke="#cccd9a"/>
<path d="M151.8 367.7h0" stroke="#64e64c"/>
<path d="M152.2 357.3h0" stroke="#00c1ff"/>
<path d="M502.3 97.8h0" stroke="#d2cb9e"/>
<path d="M459.5 106.5h0" stroke="#ff9292"/>
<path d="M350.9 217.4h0" stroke="#ffb1b1"/>
<path d="M485.5 104.9h0" stroke="#00ff6e"/>
<path d="M485.1 91.6h0" stroke="#9ad974"/>
<path d="M348.5 217.8h0" stroke="#e9c5af"/>
<path d="M246.8 297.3h0" stroke="#fac1bc"/>
<path d="M153.6 354.5h0" stroke="#00ff9c"/>
<path d="M473.1 103.4h0" stroke="#2af520"/>
<path d="M225.4 310.7h0" stroke="#6ae550"/>
<path d="M181.9 329.6h0" stroke="#33f227"/>
<path d="M363.2 204.5h0" stroke="#94db6f"/>
<path d="M190.5 324.0h0" stroke="#02fe02"/>
<path d="M287.1 263.0h0" stroke="#74e257"/>
<path d="M131.5 370.1h0" stroke="#00ff13"/>
<path d="M383.7 166.2h0" stroke="#ff9f9f"/>
<path d="M503.5 92.5h0" stroke="#10fb0c"/>
<path d="M416.1 162.3h0" stroke="#65e64c"/>
<path d="M157.6 360.4h0" stroke="#00ff31"/>
<path d="M472.6 121.2h0" stroke="#dfc8a8"/>
<path d="M432.9 131.7h0" stroke="#add483"/>
<path d="M496.9 94.8h0" stroke="#00ffdf"/>
<path d="M398.5 176.5h0" stroke="#7be15c"/>
<path d="M167.9 356.1h0" stroke="#88dd67"/>
<path d="M300.3 254.8h0" stroke="#d2cb9e"/>
<path d="M191.4 324.5h0" stroke="#00ff64"/>
<path d="M359.8 204.9h0" stroke="#31f325"/>
<path d="M492.6 73.2h0" stroke="#ff1313"/>
<path d="M444.1 144.3h0" stroke="#fbb"/>
<path d="M131.4 386.7h0" stroke="#eec4b3"/>
<path d="M253.5 289.1h0" stroke="#73e357"/>
<path d="M270.7 255.6h0" stroke="#ffb9b9"/>
<path d="M396.8 179.0h0" stroke="#abd580"/>
<path d="M270.9 259.1h0" stroke="#6be551"/>
<path d="M303.3 252.7h0" stroke="#ddc8a6"/>
<path d="M347.4 220.6h0" stroke="#ffa8a8"/>
<path d="M167.6 344.6h0" stroke="#00fff6"/>
<path d="M353.7 215.3h0" stroke="#ffb0b0"/>
<path d="M228.5 295.2h0" stroke="#00ff40"/>
<path d="M484.1 92.2h0" stroke="#a0d878"/>
<path d="M353.9 190.9h0" stroke="#ffbaba"/>
<path d="M522.7 62.3h0" stroke="#9ad974"/>
<path d="M132.7 381.3h0" stroke="#29f51f"/>
<path d="M286.2 244.8h0" stroke="#d9caa3"/>
<path d="M355.7 210.2h0" stroke="#8add68"/>
<path d="M320.2 238.4h0" stroke="#a8d57f"/>
<path d="M282.8 266.0h0" stroke="#68e54e"/>
<path d="M242.3 281.7h0" stroke="#5ae944"/>
<path d="M491.1 89.1h0" stroke="#3bf02d"/>
<path d="M199.6 319.3h0" stroke="#00ffcd"/>
<path d="M154.2 370.2h0" stroke="#ffb1b1"/>
<path d="M188.6 339.2h0" stroke="#65e64c"/>
<path d="M494.6 87.5h0" stroke="#08fd06"/>
<path d="M201.7 319.0h0" stroke="#00b2ff"/>
<path d="M209.4 325.5h0" stroke="#d4cb9f"/>
<path d="M252.1 268.7h0" stroke="#ffa3a3"/>
<path d="M147.3 373.6h0" stroke="#cbcd99"/>
<path d="M167.9 355.3h0" stroke="#66e64d"/>
<path d="M213.9 305.9h0" stroke="#00ff04"/>
<path d="M319.7 238.3h0" stroke="#93db6f"/>
<path d="M130.6 377.8h0" stroke="#0084ff"/>
<path d="M221.0 301.1h0" stroke="#0f4"/>
<path d="M235.7 289.3h0" stroke="#00ff2a"/>
<path d="M460.0 108.8h0" stroke="#ffbfbf"/>
<path d="M323.7 216.4h0" stroke="#b4d387"/>
<path d="M420.1 138.1h0" stroke="#ffa3a3"/>
<path d="M459.4 110.8h0" stroke="#bed08f"/>
<path d="M465.1 124.6h0" stroke="#73e356"/>
<path d="M382.4 166.9h0" stroke="#ff9a9a"/>
<path d="M477.4 115.1h0" stroke="#79e15b"/>
<path d="M170.8 341.7h0" stroke="#00ffd7"/>
<path d="M329.2 238.8h0" stroke="#ff6464"/>
<path d="M209.0 331.9h0" stroke="#ff6a6a"/>
<path d="M343.1 201.6h0" stroke="#add482"/>
<path d="M319.9 217.3h0" stroke="#ffb7b7"/>
<path d="M494.0 89.7h0" stroke="#00ff8d"/>
<path d="M476.4 101.9h0" stroke="#00ff07"/>
<path d="M454.0 110.0h0" stroke="#ff8484"/>
<path d="M263.3 266.8h0" stroke="#1ef817"/>
<path d="M413.3 167.6h0" stroke="#ecc5b2"/>
<path d="M344.8 224.1h0" stroke="#ff9191"/>
<path d="M326.7 217.1h0" stroke="#2ef423"/>
<path d="M260.2 268.9h0" stroke="#2af520"/>
<path d="M384.3 192.3h0" stroke="#ffa3a3"/>
<path d="M307.4 228.7h0" stroke="#c8ce96"/>
<path d="M188.7 327.4h0" stroke="#00ffb3"/>
<path d="M402.6 173.6h0" stroke="#87de66"/>
<path d="M214.2 320.4h0" stroke="#97da72"/>
<path d="M380.2 169.5h0" stroke="#faa"/>
<path d="M387.7 189.5h0" stroke="#ffa4a4"/>
<path d="M258.6 270.8h0" stroke="#0cfc09"/>
<path d="M383.0 191.2h0" stroke="#f1c3b5"/>
<path d="M311.3 226.0h0" stroke="#b8d18b"/>
<path d="M131.4 386.6h0" stroke="#e8c6af"/>
<path d="M475.9 118.5h0" stroke="#dcc9a5"/>
<path d="M349.0 193.0h0" stroke="#ff9d9d"/>
<path d="M146.9 359.6h0" stroke="#00ff9a"/>
<path d="M456.8 133.1h0" stroke="#d1cb9d"/>
<path d="M378.6 192.1h0" stroke="#81df61"/>
<path d="M294.6 259.6h0" stroke="#e0c8a9"/>
<path d="M157.2 361.1h0" stroke="#00ff17"/>
<path d="M144.6 362.4h0" stroke="#00fff2"/>
<path d="M448.7 144.0h0" stroke="#ff8585"/>
<path d="M459.5 113.2h0" stroke="#4cec3a"/>
<path d="M441.2 126.5h0" stroke="#77e259"/>
<path d="M260.6 288.7h0" stroke="#ff9e9e"/>
<path d="M249.9 290.9h0" stroke="#48ed36"/>
<path d="M296.9 264.2h0" stroke="#ff6161"/>
<path d="M309.1 246.8h0" stroke="#9fd877"/>
<path d="M238.5 304.2h0" stroke="#ffbaba"/>
<path d="M561.2 73.2h0" stroke="#ee82ee"/>
<path d="M150.6 358.6h0" stroke="#00bfff"/>
<path d="M170.7 352.4h0" stroke="#4e3"/>
<path d="M182.3 329.6h0" stroke="#23f61a"/>
<path d="M160.1 348.7h0" stroke="#00ff60"/>
<path d="M257.2 293.8h0" stroke="#ff7575"/>
<path d="M328.6 214.4h0" stroke="#65e64c"/>
<path d="M126.9 379.4h0" stroke="#0014ff"/>
<path d="M160.4 364.6h0" stroke="#ffbebe"/>
<path d="M239.3 302.3h0" stroke="#d8caa2"/>
<path d="M273.1 256.9h0" stroke="#82df62"/>
<path d="M314.1 222.8h0" stroke="#e6c6ad"/>
<path d="M139.2 375.1h0" stroke="#00ff18"/>
<path d="M302.8 260.0h0" stroke="#ff5858"/>
<path d="M151.3 366.3h0" stroke="#10fb0c"/>
<path d="M434.8 147.6h0" stroke="#59e943"/>
<path d="M203.4 314.4h0" stroke="#00ff21"/>
<path d="M492.5 99.8h0" stroke="#00ff51"/>
<path d="M396.4 154.4h0" stroke="#ff7f7f"/>
<path d="M150.4 359.0h0" stroke="#00a9ff"/>
<path d="M228.8 289.1h0" stroke="#e6c6ae"/>
<path d="M487.5 96.0h0" stroke="#00fffb"/>
<path d="M137.8 364.6h0" stroke="#0ffb0c"/>
<path d="M455.4 112.8h0" stroke="#eec4b3"/>
<path d="M180.3 333.0h0" stroke="#00ff5c"/>
<path d="M442.8 119.8h0" stroke="#f99"/>
<path d="M442.3 121.1h0" stroke="#ffa7a7"/>
<path d="M297.8 255.8h0" stroke="#a8d57f"/>
<path d="M347.0 216.0h0" stroke="#62e74a"/>
<path d="M206.2 313.0h0" stroke="#00ff68"/>
<path d="M141.2 363.0h0" stroke="#00ff39"/>
<path d="M442.2 124.7h0" stroke="#a1d779"/>
<path d="M300.9 250.3h0" stroke="#1cf815"/>
<path d="M393.7 186.3h0" stroke="#ff8b8b"/>
<path d="M412.1 144.4h0" stroke="#ffa4a4"/>
<path d="M389.9 181.2h0" stroke="#24f61b"/>
<path d="M491.2 100.1h0" stroke="#00ff8c"/>
<path d="M141.9 376.1h0" stroke="#80df60"/>
<path d="M378.3 182.8h0" stroke="#0057ff"/>
<path d="M383.5 169.5h0" stroke="#c8ce96"/>
<path d="M197.3 336.4h0" stroke="#ffb6b6"/>
<path d="M404.8 171.5h0" stroke="#76e259"/>
<path d="M289.8 260.5h0" stroke="#64e64b"/>
<path d="M437.8 144.4h0" stroke="#34f227"/>
<path d="M269.5 280.6h0" stroke="#ffb2b2"/>
<path d="M351.8 189.4h0" stroke="#ff8585"/>
<path d="M442.9 121.2h0" stroke="#ffb1b1"/>
<path d="M319.8 233.9h0" stroke="#00ff61"/>
<path d="M374.7 184.3h0" stroke="#00c5ff"/>
<path d="M431.5 155.0h0" stroke="#ffadad"/>
<path d="M469.2 102.9h0" stroke="#c9cd97"/>
<path d="M505.2 93.2h0" stroke="#68e54e"/>
<path d="M417.9 132.3h0" stroke="#ff2525"/>
<path d="M501.4 85.6h0" stroke="#00dbff"/>
<path d="M281.4 251.4h0" stroke="#55ea40"/>
<path d="M274.3 251.0h0" stroke="#ff9b9b"/>
<path d="M135.1 378.9h0" stroke="#11fb0d"/>
<path d="M234.1 290.2h0" stroke="#00ff08"/>
<path d="M160.0 351.9h0" stroke="#008eff"/>
<path d="M152.2 366.3h0" stroke="#2ff324"/>
<path d="M459.6 135.1h0" stroke="#ff8b8b"/>
<path d="M452.6 115.1h0" stroke="#e7c6ae"/>
<path d="M490.0 84.4h0" stroke="#ffadad"/>
<path d="M390.5 167.5h0" stroke="#2ef422"/>
<path d="M288.4 259.9h0" stroke="#16fa11"/>
<path d="M481.9 95.5h0" stroke="#5ae944"/>
<path d="M147.4 370.1h0" stroke="#35f228"/>
<path d="M340.2 222.4h0" stroke="#93db6e"/>
<path d="M455.9 131.0h0" stroke="#51eb3d"/>
<path d="M463.3 122.3h0" stroke="#00ff65"/>
<path d="M224.0 313.8h0" stroke="#c4ce94"/>
<path d="M285.7 249.3h0" stroke="#23f61a"/>
<path d="M368.6 179.8h0" stroke="#ffbebe"/>
<path d="M252.5 272.6h0" stroke="#8edc6b"/>
<path d="M410.2 151.4h0" stroke="#50eb3c"/>
<path d="M225.9 295.8h0" stroke="#1ff717"/>
<path d="M264.6 264.8h0" stroke="#4bec39"/>
<path d="M402.4 172.5h0" stroke="#50eb3c"/>
<path d="M365.2 202.9h0" stroke="#91db6d"/>
<path d="M376.6 186.8h0" stroke="#009cff"/>
<path d="M283.5 245.9h0" stroke="#ffbdbd"/>
<path d="M251.5 289.6h0" stroke="#46ee35"/>
<path d="M423.1 164.3h0" stroke="#ff7f7f"/>
<path d="M277.6 254.6h0" stroke="#50eb3c"/>
<path d="M234.1 306.2h0" stroke="#cfcc9c"/>
<path d="M480.4 111.0h0" stroke="#28f51e"/>
<path d="M458.6 123.6h0" stroke="#00caff"/>
<path d="M345.9 196.9h0" stroke="#ffb5b5"/>
<path d="M360.6 213.5h0" stroke="#ff7474"/>
<path d="M483.3 98.7h0" stroke="#00ffc9"/>
<path d="M188.0 338.0h0" stroke="#1bf814"/>
<path d="M147.3 368.3h0" stroke="#00ff46"/>
<path d="M499.2 89.2h0" stroke="#0035ff"/>
<path d="M127.7 388.9h0" stroke="#cfcc9c"/>
<path d="M156.6 365.2h0" stroke="#97da72"/>
<path d="M290.2 243.5h0" stroke="#87de65"/>
<path d="M365.6 202.1h0" stroke="#7be15d"/>
<path d="M471.9 103.7h0" stroke="#4e3"/>
<path d="M312.4 229.2h0" stroke="#04fe03"/>
<path d="M278.2 252.0h0" stroke="#aad580"/>
<path d="M410.9 148.2h0" stroke="#c7ce96"/>
<path d="M152.4 357.9h0" stroke="#007eff"/>
<path d="M143.3 373.5h0" stroke="#3df02e"/>
<path d="M376.9 180.5h0" stroke="#00ff80"/>
<path d="M160.3 351.7h0" stroke="#0082ff"/>
<path d="M418.0 136.3h0" stroke="#ff6969"/>
<path d="M358.2 188.6h0" stroke="#e5c6ac"/>
<path d="M415.7 159.2h0" stroke="#00ff6e"/>
<path d="M288.1 245.6h0" stroke="#70e355"/>
<path d="M402.8 154.8h0" stroke="#bcd18d"/>
<path d="M424.0 138.0h0" stroke="#cbcd99"/>
<path d="M157.1 360.3h0" stroke="#0f6"/>
<path d="M481.0 100.0h0" stroke="#0f9"/>
<path d="M461.5 109.0h0" stroke="#c7ce96"/>
<path d="M150.7 359.2h0" stroke="#0082ff"/>
<path d="M154.2 356.7h0" stroke="#0071ff"/>
<path d="M195.2 320.9h0" stroke="#00ff2c"/>
<path d="M491.7 104.6h0" stroke="#93db6f"/>
<path d="M491.7 101.4h0" stroke="#03fe02"/>
<path d="M548.6 65.0h0" stroke="#ff9b9b"/>
<path d="M222.5 302.5h0" stroke="#00d4ff"/>
<path d="M419.5 162.7h0" stroke="#eac5b0"/>
<path d="M285.5 264.4h0" stroke="#7ae15c"/>
<path d="M499.4 83.8h0" stroke="#07fd05"/>
<path d="M195.8 337.6h0" stroke="#ffb7b7"/>
<path d="M392.5 163.9h0" stroke="#8ddc6a"/>
<path d="M205.3 326.4h0" stroke="#6be451"/>
<path d="M447.6 120.4h0" stroke="#a8d57f"/>
<path d="M332.6 208.5h0" stroke="#e0c8a9"/>
<path d="M245.8 275.5h0" stroke="#f6c2b9"/>
<path d="M351.3 192.9h0" stroke="#ffb9b9"/>
<path d="M337.1 221.8h0" stroke="#0bfc09"/>
<path d="M255.4 271.3h0" stroke="#67e64e"/>
<path d="M174.6 335.4h0" stroke="#2df422"/>
<path d="M330.2 226.8h0" stroke="#00ff03"/>
<path d="M208.7 327.9h0" stroke="#ffb1b1"/>
<path d="M305.8 249.7h0" stroke="#aed483"/>
<path d="M191.8 341.8h0" stroke="#ffa5a5"/>
<path d="M354.9 191.8h0" stroke="#c6ce95"/>
<path d="M267.1 263.7h0" stroke="#22f71a"/>
<path d="M183.1 330.3h0" stroke="#00ff2f"/>
<path d="M414.4 164.1h0" stroke="#7ae15c"/>
<path d="M412.0 172.2h0" stroke="#ff8b8b"/>
<path d="M436.0 126.7h0" stroke="#ffb3b3"/>
<path d="M300.2 252.4h0" stroke="#66e64d"/>
<path d="M482.6 108.5h0" stroke="#02ff01"/>
<path d="M349.5 216.2h0" stroke="#c3cf93"/>
<path d="M308.5 225.9h0" stroke="#ffb4b4"/>
<path d="M431.4 131.5h0" stroke="#efc4b4"/>
<path d="M538.4 73.1h0" stroke="#ff9898"/>
<path d="M151.6 364.2h0" stroke="#00ff7e"/>
<path d="M484.8 105.3h0" stroke="#00ff7c"/>
<path d="M198.1 333.6h0" stroke="#b8d18b"/>
<path d="M352.2 213.5h0" stroke="#a5d67c"/>
<path d="M293.2 239.9h0" stroke="#c0d090"/>
<path d="M219.0 303.3h0" stroke="#00ff7c"/>
<path d="M355.1 209.8h0" stroke="#67e64d"/>
<path d="M419.3 158.5h0" stroke="#27f51d"/>
<path d="M443.3 125.2h0" stroke="#67e54e"/>
<path d="M343.9 197.8h0" stroke="#ffabab"/>
<path d="M312.7 245.3h0" stroke="#d9c9a3"/>
<path d="M392.0 162.8h0" stroke="#d1cb9d"/>
<path d="M429.6 127.1h0" stroke="#ff6565"/>
<path d="M431.9 151.7h0" stroke="#afd484"/>
<path d="M396.4 177.1h0" stroke="#4dec3a"/>
<path d="M414.5 160.7h0" stroke="#00ff3e"/>
<path d="M317.7 224.7h0" stroke="#16fa10"/>
<path d="M263.5 282.9h0" stroke="#bbd18d"/>
<path d="M167.6 355.2h0" stroke="#56ea41"/>
<path d="M430.4 134.0h0" stroke="#9fd878"/>
<path d="M419.6 154.9h0" stroke="#00ffdf"/>
<path d="M342.0 196.4h0" stroke="#ff7b7b"/>
<path d="M278.1 255.8h0" stroke="#08fd06"/>
<path d="M438.7 144.0h0" stroke="#41ef31"/>
<path d="M499.2 90.9h0" stroke="#0067ff"/>
<path d="M399.1 155.4h0" stroke="#ffb3b3"/>
<path d="M313.3 228.2h0" stroke="#13fa0f"/>
<path d="M420.8 150.6h0" stroke="#01f"/>
<path d="M295.5 258.9h0" stroke="#e2c7aa"/>
<path d="M359.0 189.1h0" stroke="#b4d288"/>
<path d="M224.5 300.8h0" stroke="#00dcff"/>
<path d="M461.5 126.9h0" stroke="#5fe847"/>
<path d="M163.5 359.0h0" stroke="#74e258"/>
<path d="M279.0 270.9h0" stroke="#bfd090"/>
<path d="M231.2 291.0h0" stroke="#3df02e"/>
<path d="M349.3 195.0h0" stroke="#fac1bc"/>
<path d="M519.0 77.4h0" stroke="#00fff7"/>
<path d="M269.8 279.6h0" stroke="#ffbfbf"/>
<path d="M184.1 344.5h0" stroke="#b4d288"/>
<path d="M310.8 244.6h0" stroke="#76e259"/>
<path d="M229.9 307.6h0" stroke="#79e15b"/>
<path d="M377.2 167.5h0" stroke="#ff6060"/>
<path d="M338.1 204.6h0" stroke="#d2cb9e"/>
<path d="M417.2 149.3h0" stroke="#0f8"/>
<path d="M424.3 155.6h0" stroke="#53ea3f"/>
<path d="M286.6 261.7h0" stroke="#2cf421"/>
<path d="M455.3 134.6h0" stroke="#dec8a7"/>
<path d="M188.1 327.5h0" stroke="#00ff90"/>
<path d="M203.6 326.8h0" stroke="#46ee34"/>
<path d="M386.8 189.5h0" stroke="#ffb0b0"/>
<path d="M391.1 162.6h0" stroke="#f5c2b9"/>
<path d="M479.6 95.8h0" stroke="#9fd878"/>
<path d="M370.0 196.4h0" stroke="#13fa0f"/>
<path d="M480.1 108.9h0" stroke="#00ff85"/>
<path d="M178.5 333.7h0" stroke="#00ff20"/>
<path d="M429.5 152.5h0" stroke="#7de05e"/>
<path d="M382.7 187.5h0" stroke="#40ef30"/>
<path d="M345.0 214.3h0" stroke="#00ff5d"/>
<path d="M267.6 280.0h0" stroke="#c8ce97"/>
<path d="M208.0 326.8h0" stroke="#ddc8a7"/>
<path d="M337.5 207.6h0" stroke="#60e748"/>
<path d="M377.8 192.2h0" stroke="#68e54e"/>
<path d="M214.2 305.6h0" stroke="#0f0"/>
<path d="M372.8 183.4h0" stroke="#00ff63"/>
<path d="M319.1 242.1h0" stroke="#ffb0b0"/>
<path d="M423.5 151.4h0" stroke="#00f9ff"/>
<path d="M189.3 327.5h0" stroke="#00ffe3"/>
<path d="M373.9 180.4h0" stroke="#2ef423"/>
<path d="M335.5 210.1h0" stroke="#33f226"/>
<path d="M348.5 197.1h0" stroke="#b8d28a"/>
<path d="M275.3 260.0h0" stroke="#00ffa6"/>
<path d="M517.1 91.7h0" stroke="#ff7676"/>
<path d="M313.0 229.3h0" stroke="#00ff2f"/>
<path d="M451.2 109.3h0" stroke="#f55"/>
<path d="M349.5 200.5h0" stroke="#00ff06"/>
<path d="M421.9 149.2h0" stroke="#003aff"/>
<path d="M392.6 163.5h0" stroke="#99d973"/>
<path d="M438.9 143.6h0" stroke="#39f12b"/>
<path d="M222.1 316.8h0" stroke="#ffbcbc"/>
<path d="M393.4 179.1h0" stroke="#3af12c"/>
<path d="M473.4 118.1h0" stroke="#70e355"/>
<path d="M292.8 259.7h0" stroke="#a7d67e"/>
<path d="M247.4 295.4h0" stroke="#bad18c"/>
<path d="M319.2 237.4h0" stroke="#57ea41"/>
<path d="M338.8 203.3h0" stroke="#f3c3b7"/>
<path d="M237.8 305.5h0" stroke="#ffaeae"/>
<path d="M395.7 180.7h0" stroke="#d4cb9f"/>
<path d="M481.5 108.3h0" stroke="#00ff52"/>
<path d="M362.2 205.0h0" stroke="#87de66"/>
<path d="M498.0 82.3h0" stroke="#77e25a"/>
<path d="M377.5 172.0h0" stroke="#ffb0b0"/>
<path d="M135.4 378.0h0" stroke="#00ff17"/>
<path d="M444.6 130.0h0" stroke="#00caff"/>
<path d="M183.9 330.9h0" stroke="#00ff9c"/>
<path d="M139.0 365.5h0" stroke="#00ff83"/>
<path d="M350.5 200.4h0" stroke="#00ff43"/>
<path d="M395.1 182.0h0" stroke="#f9c2bb"/>
<path d="M338.8 220.2h0" stroke="#02ff02"/>
<path d="M329.0 218.0h0" stroke="#00ff92"/>
<path d="M423.2 161.2h0" stroke="#ffb1b1"/>
<path d="M286.4 262.8h0" stroke="#55ea40"/>
<path d="M220.7 319.7h0" stroke="#ff9e9e"/>
<path d="M473.1 113.2h0" stroke="#00ffe4"/>
<path d="M283.5 264.7h0" stroke="#4e3"/>
<path d="M176.5 349.0h0" stroke="#78e15b"/>
<path d="M469.3 119.3h0" stroke="#1bf814"/>
<path d="M396.3 181.1h0" stroke="#fec0bf"/>
<path d="M318.6 236.0h0" stroke="#05fe04"/>
<path d="M259.1 287.4h0" stroke="#e9c5b0"/>
<path d="M233.9 304.2h0" stroke="#71e355"/>
<path d="M407.7 170.9h0" stroke="#bfd090"/>
<path d="M167.4 356.3h0" stroke="#82df62"/>
<path d="M387.9 166.6h0" stroke="#b0d385"/>
<path d="M208.8 310.0h0" stroke="#00ff15"/>
<path d="M130.3 371.4h0" stroke="#00ff32"/>
<path d="M388.4 184.4h0" stroke="#7be15d"/>
<path d="M280.5 266.5h0" stroke="#2ef423"/>
<path d="M333.7 210.3h0" stroke="#6ee452"/>
<path d="M380.3 183.6h0" stroke="#0078ff"/>
<path d="M329.3 230.4h0" stroke="#80df60"/>
<path d="M233.9 302.8h0" stroke="#32f326"/>
<path d="M130.6 381.1h0" stroke="#00ff54"/>
<path d="M186.7 339.5h0" stroke="#31f325"/>
<path d="M157.8 363.9h0" stroke="#89dd67"/>
<path d="M157.0 359.9h0" stroke="#00ff95"/>
<path d="M248.7 294.4h0" stroke="#b9d18b"/>
<path d="M225.1 310.5h0" stroke="#57e942"/>
<path d="M418.0 157.6h0" stroke="#00ff59"/>
<path d="M193.7 322.4h0" stroke="#00ff49"/>
<path d="M441.1 128.6h0" stroke="#1af913"/>
<path d="M266.3 266.1h0" stroke="#00ff5b"/>
<path d="M241.2 283.5h0" stroke="#31f325"/>
<path d="M364.0 183.3h0" stroke="#ffbcbc"/>
<path d="M377.0 189.8h0" stroke="#00ff3f"/>
<path d="M478.6 93.3h0" stroke="#ffafaf"/>
<path d="M173.8 350.6h0" stroke="#64e64b"/>
<path d="M206.8 313.5h0" stroke="#0fb"/>
<path d="M374.0 194.7h0" stroke="#55ea40"/>
<path d="M147.0 360.3h0" stroke="#00ffd7"/>
<path d="M434.6 143.0h0" stroke="#00fff2"/>
<path d="M505.6 80.7h0" stroke="#00ff8c"/>
<path d="M340.7 209.3h0" stroke="#00ffb6"/>
<path d="M182.6 333.0h0" stroke="#00fff9"/>
<path d="M282.0 262.6h0" stroke="#00ff9c"/>
<path d="M230.1 306.5h0" stroke="#50eb3c"/>
<path d="M475.1 116.0h0" stroke="#4dec3a"/>
<path d="M409.9 154.8h0" stroke="#00ff78"/>
<path d="M248.1 277.7h0" stroke="#4e3"/>
<path d="M366.3 200.4h0" stroke="#46ee35"/>
<path d="M443.6 142.8h0" stroke="#b7d289"/>
<path d="M244.5 280.9h0" stroke="#33f227"/>
<path d="M383.1 170.4h0" stroke="#b0d485"/>
<path d="M336.1 219.6h0" stroke="#0fe"/>
<path d="M344.1 217.9h0" stroke="#55ea40"/>
<path d="M246.0 294.3h0" stroke="#59e943"/>
<path d="M425.4 158.6h0" stroke="#ffc0c0"/>
<path d="M341.8 220.7h0" stroke="#7fe060"/>
<path d="M132.8 375.6h0" stroke="#005dff"/>
<path d="M375.0 193.0h0" stroke="#2cf421"/>
<path d="M401.4 173.2h0" stroke="#4fec3b"/>
<path d="M453.2 127.1h0" stroke="#0086ff"/>
<path d="M334.8 212.2h0" stroke="#00ff1a"/>
<path d="M203.1 326.4h0" stroke="#21f719"/>
<path d="M345.7 200.2h0" stroke="#8fdc6b"/>
<path d="M255.2 272.2h0" stroke="#43ee33"/>
<path d="M456.5 123.7h0" stroke="#0041ff"/>
<path d="M211.9 309.8h0" stroke="#00ffdb"/>
<path d="M487.4 99.8h0" stroke="#004dff"/>
<path d="M154.7 353.2h0" stroke="#00ff7c"/>
<path d="M346.7 221.5h0" stroke="#ffa3a3"/>
<path d="M323.5 216.8h0" stroke="#add482"/>
<path d="M223.1 311.6h0" stroke="#4e3"/>
<path d="M288.9 258.8h0" stroke="#00ff0d"/>
<path d="M478.0 99.0h0" stroke="#43ee33"/>
<path d="M499.2 93.9h0" stroke="#00ff8f"/>
<path d="M385.7 167.5h0" stroke="#d7caa2"/>
<path d="M210.1 322.3h0" stroke="#5ce845"/>
<path d="M341.8 206.4h0" stroke="#01ff00"/>
<path d="M423.9 150.2h0" stroke="#00a6ff"/>
<path d="M465.0 106.8h0" stroke="#add483"/>
<path d="M294.4 258.5h0" stroke="#acd581"/>
<path d="M372.8 200.3h0" stroke="#ffb2b2"/>
<path d="M472.2 82.6h0" stroke="#ef79de"/>
<path d="M392.0 177.9h0" stroke="#00ff56"/>
<path d="M224.0 304.1h0" stroke="#0023ff"/>
<path d="M300.8 257.7h0" stroke="#f99"/>
<path d="M152.1 358.3h0" stroke="#0071ff"/>
<path d="M327.3 209.7h0" stroke="#ff9a9a"/>
<path d="M404.2 156.2h0" stroke="#4dec3a"/>
<path d="M230.5 293.6h0" stroke="#00ff38"/>
<path d="M313.7 237.3h0" stroke="#00ffd4"/>
<path d="M461.0 114.8h0" stroke="#00ff58"/>
<path d="M202.4 325.8h0" stroke="#00ff25"/>
<path d="M259.6 270.8h0" stroke="#00ff2a"/>
<path d="M238.1 287.1h0" stroke="#00ff04"/>
<path d="M420.5 139.8h0" stroke="#f1c4b5"/>
<path d="M303.0 248.5h0" stroke="#16fa10"/>
<path d="M162.0 359.2h0" stroke="#46ee35"/>
<path d="M168.1 341.6h0" stroke="#00ff0f"/>
<path d="M428.6 145.3h0" stroke="#0037ff"/>
<path d="M250.6 276.5h0" stroke="#24f61b"/>
<path d="M309.4 232.0h0" stroke="#0f2"/>
<path d="M237.3 285.1h0" stroke="#75e258"/>
<path d="M543.1 60.7h0" stroke="#00ff3d"/>
<path d="M432.8 133.9h0" stroke="#51eb3d"/>
<path d="M333.2 214.2h0" stroke="#00ff5e"/>
<path d="M405.6 151.3h0" stroke="#f9c2bb"/>
<path d="M304.9 245.5h0" stroke="#00ff60"/>
<path d="M129.5 374.8h0" stroke="#00d3ff"/>
<path d="M393.6 164.6h0" stroke="#4e3"/>
<path d="M352.1 187.0h0" stroke="#ff6060"/>
<path d="M418.0 147.9h0" stroke="#00ff40"/>
<path d="M302.5 232.1h0" stroke="#d8caa3"/>
<path d="M289.5 244.3h0" stroke="#7ee05f"/>
<path d="M371.6 194.2h0" stroke="#00ff31"/>
<path d="M395.5 162.9h0" stroke="#51eb3d"/>
<path d="M206.8 316.8h0" stroke="#0012ff"/>
<path d="M269.3 277.2h0" stroke="#89dd67"/>
<path d="M344.5 202.3h0" stroke="#58e942"/>
<path d="M289.8 251.1h0" stroke="#0085ff"/>
<path d="M355.6 207.3h0" stroke="#08fd06"/>
<path d="M133.4 372.2h0" stroke="#00adff"/>
<path d="M412.6 147.5h0" stroke="#aed483"/>
<path d="M335.9 228.6h0" stroke="#ffb9b9"/>
<path d="M175.5 336.8h0" stroke="#00ff62"/>
<path d="M428.8 144.6h0" stroke="#000eff"/>
<path d="M140.0 367.1h0" stroke="#00a8ff"/>
<path d="M493.0 96.1h0" stroke="#0085ff"/>
<path d="M280.6 268.8h0" stroke="#9ad974"/>
<path d="M313.3 225.2h0" stroke="#97da72"/>
<path d="M362.0 186.9h0" stroke="#aad580"/>
<path d="M380.3 180.0h0" stroke="#00c7ff"/>
<path d="M395.7 174.8h0" stroke="#00ff63"/>
<path d="M450.8 136.1h0" stroke="#84de64"/>
<path d="M391.6 187.2h0" stroke="#ff9898"/>
<path d="M170.3 351.0h0" stroke="#00ff0c"/>
<path d="M345.0 203.8h0" stroke="#06fd05"/>
<path d="M287.6 255.6h0" stroke="#07f"/>
<path d="M225.8 303.5h0" stroke="#0068ff"/>
<path d="M416.0 153.7h0" stroke="#0046ff"/>
<path d="M452.4 127.6h0" stroke="#0084ff"/>
<path d="M511.8 100.1h0" stroke="#ff2d2d"/>
<path d="M370.4 194.8h0" stroke="#00ff43"/>
<path d="M372.0 191.7h0" stroke="#0fe"/>
<path d="M259.6 271.1h0" stroke="#00ff48"/>
<path d="M180.6 346.6h0" stroke="#9cd876"/>
<path d="M352.9 204.0h0" stroke="#0030ff"/>
<path d="M433.8 145.3h0" stroke="#00ff5c"/>
<path d="M395.7 167.0h0" stroke="#00ffe0"/>
<path d="M155.2 360.9h0" stroke="#0fa"/>
<path d="M267.3 278.7h0" stroke="#86de65"/>
<path d="M432.4 125.8h0" stroke="#ff7575"/>
<path d="M496.4 101.6h0" stroke="#afd484"/>
<path d="M439.2 142.7h0" stroke="#17f911"/>
<path d="M398.6 176.0h0" stroke="#69e54f"/>
<path d="M467.5 120.9h0" stroke="#21f719"/>
<path d="M465.1 115.8h0" stroke="#002eff"/>
<path d="M296.5 237.1h0" stroke="#c7ce96"/>
<path d="M208.5 322.3h0" stroke="#25f61c"/>
<path d="M260.8 271.4h0" stroke="#00ffb8"/>
<path d="M428.2 157.9h0" stroke="#ffa6a6"/>
<path d="M134.5 372.7h0" stroke="#0034ff"/>
<path d="M516.5 73.1h0" stroke="#00ffdc"/>
<path d="M347.4 201.4h0" stroke="#21f719"/>
<path d="M289.7 247.0h0" stroke="#00ff0c"/>
<path d="M278.5 256.8h0" stroke="#00ff65"/>
<path d="M490.7 92.9h0" stroke="#00ffc3"/>
<path d="M457.0 120.5h0" stroke="#00bcff"/>
<path d="M256.1 274.0h0" stroke="#00ff59"/>
<path d="M321.6 218.9h0" stroke="#90db6d"/>
<path d="M271.9 276.0h0" stroke="#acd582"/>
<path d="M470.5 113.6h0" stroke="#0082ff"/>
<path d="M326.7 200.4h0" stroke="#fd0d18"/>
<path d="M476.0 105.7h0" stroke="#0bf"/>
<path d="M134.7 369.6h0" stroke="#00ffc4"/>
<path d="M285.9 258.0h0" stroke="#00daff"/>
<path d="M280.9 257.9h0" stroke="#008cff"/>
<path d="M147.8 361.8h0" stroke="#0063ff"/>
<path d="M414.7 154.8h0" stroke="#003dff"/>
<path d="M343.7 214.2h0" stroke="#00ffc0"/>
<path d="M312.5 236.8h0" stroke="#00adff"/>
<path d="M435.4 132.7h0" stroke="#2bf420"/>
<path d="M452.7 123.7h0" stroke="#00c7ff"/>
<path d="M362.0 201.7h0" stroke="#00ff24"/>
<path d="M202.9 317.4h0" stroke="#00ecff"/>
<path d="M313.9 227.1h0" stroke="#2bf420"/>
<path d="M380.9 175.4h0" stroke="#1bf814"/>
<path d="M397.5 172.1h0" stroke="#00ffdb"/>
<path d="M412.4 161.6h0" stroke="#00ff78"/>
<path d="M416.2 148.4h0" stroke="#06fe04"/>
<path d="M460.5 129.3h0" stroke="#a7d67e"/>
<path d="M371.6 178.9h0" stroke="#c6ce95"/>
<path d="M182.1 343.2h0" stroke="#34f227"/>
<path d="M159.0 353.0h0" stroke="#006fff"/>
<path d="M377.0 193.6h0" stroke="#8cdc6a"/>
<path d="M156.3 355.3h0" stroke="#005aff"/>
<path d="M400.5 168.9h0" stroke="#00daff"/>
<path d="M154.0 350.9h0" stroke="#42ef32"/>
<path d="M355.0 194.6h0" stroke="#47ee35"/>
<path d="M215.1 319.3h0" stroke="#84de64"/>
<path d="M138.4 374.6h0" stroke="#00ff7c"/>
<path d="M290.3 255.8h0" stroke="#0fb"/>
<path d="M267.8 275.8h0" stroke="#13fa0e"/>
<path d="M329.1 230.0h0" stroke="#64e64b"/>
<path d="M201.5 320.6h0" stroke="#003bff"/>
<path d="M326.9 235.4h0" stroke="#fbb"/>
<path d="M476.6 107.7h0" stroke="#001fff"/>
<path d="M222.6 313.7h0" stroke="#8edc6b"/>
<path d="M440.3 139.1h0" stroke="#00ffc4"/>
<path d="M277.1 259.9h0" stroke="#00e3ff"/>
<path d="M381.9 173.7h0" stroke="#47ed35"/>
<path d="M406.0 168.4h0" stroke="#14fa0f"/>
<path d="M404.2 166.7h0" stroke="#00ffed"/>
<path d="M201.3 331.7h0" stroke="#cfcc9c"/>
<path d="M403.0 156.0h0" stroke="#7ee05f"/>
<path d="M382.8 184.2h0" stroke="#00ffa2"/>
<path d="M156.3 359.8h0" stroke="#00ffc7"/>
<path d="M321.7 231.5h0" stroke="#00ffb0"/>
<path d="M402.1 176.6h0" stroke="#fdc1be"/>
<path d="M395.7 170.4h0" stroke="#000eff"/>
<path d="M494.8 88.8h0" stroke="#00ff74"/>
<path d="M300.6 249.8h0" stroke="#00ff01"/>
<path d="M285.5 251.5h0" stroke="#00ff78"/>
<path d="M408.2 148.7h0" stroke="#ffb9b9"/>
<path d="M173.2 340.5h0" stroke="#00f2ff"/>
<path d="M416.1 147.1h0" stroke="#45ee34"/>
<path d="M234.7 302.4h0" stroke="#3af12b"/>
<path d="M244.2 295.3h0" stroke="#49ed37"/>
<path d="M184.7 343.7h0" stroke="#a7d67e"/>
<path d="M428.9 150.5h0" stroke="#0ffb0c"/>
<path d="M383.1 179.1h0" stroke="#05f"/>
<path d="M469.8 107.5h0" stroke="#00ff35"/>
<path d="M135.5 376.7h0" stroke="#00ff85"/>
<path d="M435.1 137.1h0" stroke="#00e3ff"/>
<path d="M370.4 190.2h0" stroke="#001cff"/>
<path d="M288.6 252.3h0" stroke="#006bff"/>
<path d="M449.0 132.1h0" stroke="#00ffdf"/>
<path d="M196.1 334.0h0" stroke="#7fe060"/>
<path d="M346.5 213.2h0" stroke="#0f5"/>
<path d="M411.9 160.8h0" stroke="#00ffe2"/>
<path d="M471.1 97.5h0" stroke="#ff9292"/>
<path d="M385.7 178.3h0" stroke="#0019ff"/>
<path d="M449.1 130.4h0" stroke="#09f"/>
<path d="M285.7 247.7h0" stroke="#69e54f"/>
<path d="M411.9 159.8h0" stroke="#00c3ff"/>
<path d="M369.1 185.2h0" stroke="#01ff01"/>
<path d="M354.4 208.7h0" stroke="#20f718"/>
<path d="M150.6 359.7h0" stroke="#0060ff"/>
<path d="M280.4 260.5h0" stroke="#003bff"/>
<path d="M505.6 83.4h0" stroke="#0084ff"/>
<path d="M321.2 221.6h0" stroke="#24f61b"/>
<path d="M338.9 217.9h0" stroke="#00ffbd"/>
<path d="M378.5 196.1h0" stroke="#ffafaf"/>
<path d="M504.6 86.7h0" stroke="#005fff"/>
<path d="M128.5 385.2h0" stroke="#46ee34"/>
<path d="M446.0 140.0h0" stroke="#89dd67"/>
<path d="M139.1 367.7h0" stroke="#00abff"/>
<path d="M256.1 288.9h0" stroke="#c8ce97"/>
<path d="M238.4 284.0h0" stroke="#7ae15c"/>
<path d="M425.5 153.3h0" stroke="#16fa11"/>
<path d="M433.3 147.8h0" stroke="#30f324"/>
<path d="M461.5 109.3h0" stroke="#b6d289"/>
<path d="M402.5 168.9h0" stroke="#00ff9e"/>
<path d="M349.9 210.7h0" stroke="#00ff47"/>
<path d="M490.3 105.7h0" stroke="#92db6e"/>
<path d="M306.9 231.8h0" stroke="#50eb3c"/>
<path d="M451.5 125.2h0" stroke="#0097ff"/>
<path d="M459.5 117.3h0" stroke="#00ffd0"/>
<path d="M293.1 256.1h0" stroke="#11fb0d"/>
<path d="M232.0 301.8h0" stroke="#00ff7c"/>
<path d="M425.2 150.1h0" stroke="#00f3ff"/>
<path d="M386.9 189.0h0" stroke="#ffb8b8"/>
<path d="M494.7 102.5h0" stroke="#9cd876"/>
<path d="M450.9 139.5h0" stroke="#ffb3b3"/>
<path d="M439.0 140.3h0" stroke="#00ffb1"/>
<path d="M196.7 319.9h0" stroke="#00ff43"/>
<path d="M426.8 136.4h0" stroke="#afd484"/>
<path d="M193.3 338.7h0" stroke="#f3c3b7"/>
<path d="M357.8 195.6h0" stroke="#00ff8d"/>
<path d="M330.4 225.0h0" stroke="#00ff9a"/>
<path d="M182.7 335.4h0" stroke="#0021ff"/>
<path d="M481.5 102.3h0" stroke="#006cff"/>
<path d="M312.7 231.0h0" stroke="#00ffab"/>
<path d="M216.0 311.2h0" stroke="#0074ff"/>
<path d="M423.1 134.2h0" stroke="#ff8787"/>
<path d="M250.1 278.9h0" stroke="#00ff68"/>
<path d="M274.2 260.5h0" stroke="#00ff8e"/>
<path d="M482.2 113.3h0" stroke="#cbcd99"/>
<path d="M196.9 321.6h0" stroke="#00ffde"/>
<path d="M300.0 237.1h0" stroke="#50eb3d"/>
<path d="M167.6 353.7h0" stroke="#16fa11"/>
<path d="M253.8 277.3h0" stroke="#0fd"/>
<path d="M264.0 281.6h0" stroke="#91db6d"/>
<path d="M334.1 214.7h0" stroke="#0fc"/>
<path d="M209.6 310.9h0" stroke="#00ff9d"/>
<path d="M229.2 294.8h0" stroke="#00ff53"/>
<path d="M235.0 301.3h0" stroke="#12fb0e"/>
<path d="M391.1 178.1h0" stroke="#00ff80"/>
<path d="M396.5 158.6h0" stroke="#efc4b4"/>
<path d="M335.9 210.7h0" stroke="#10fb0c"/>
<path d="M281.5 258.5h0" stroke="#002aff"/>
<path d="M251.4 275.4h0" stroke="#3af12b"/>
<path d="M431.9 145.0h0" stroke="#00fffc"/>
<path d="M238.1 303.2h0" stroke="#d4cb9f"/>
<path d="M252.0 287.6h0" stroke="#01ff01"/>
<path d="M207.2 313.7h0" stroke="#00fff3"/>
<path d="M218.4 311.5h0" stroke="#00ffcd"/>
<path d="M166.2 355.0h0" stroke="#1ef816"/>
<path d="M327.5 223.3h0" stroke="#0009ff"/>
<path d="M311.1 235.9h0" stroke="#0008ff"/>
<path d="M490.2 101.1h0" stroke="#00ff79"/>
<path d="M415.6 139.1h0" stroke="#ff7878"/>
<path d="M439.2 142.2h0" stroke="#05fe04"/>
<path d="M454.4 131.9h0" stroke="#47ee35"/>
<path d="M321.9 230.5h0" stroke="#00fffe"/>
<path d="M274.1 261.4h0" stroke="#00ffd0"/>
<path d="M350.2 204.5h0" stroke="#0061ff"/>
<path d="M279.6 264.5h0" stroke="#0f9"/>
<path d="M469.7 116.6h0" stroke="#00ffa5"/>
<path d="M415.4 149.1h0" stroke="#06fd05"/>
<path d="M249.0 285.4h0" stroke="#0061ff"/>
<path d="M351.6 202.5h0" stroke="#00b2ff"/>
<path d="M356.1 205.9h0" stroke="#00ff4d"/>
<path d="M294.9 245.1h0" stroke="#00ffc7"/>
<path d="M426.9 143.3h0" stroke="#00f1ff"/>
<path d="M478.6 105.5h0" stroke="#001cff"/>
<path d="M281.5 268.2h0" stroke="#9ed877"/>
<path d="M337.5 210.4h0" stroke="#00ff3e"/>
<path d="M365.6 190.9h0" stroke="#00f2ff"/>
<path d="M366.6 181.0h0" stroke="#ffb9b9"/>
<path d="M295.8 239.2h0" stroke="#88de66"/>
<path d="M286.2 252.4h0" stroke="#00fff9"/>
<path d="M387.2 163.1h0" stroke="#ff9898"/>
<path d="M382.2 177.5h0" stroke="#00ffdf"/>
<path d="M334.1 215.2h0" stroke="#00fffb"/>
<path d="M261.0 269.9h0" stroke="#00ff3c"/>
<path d="M318.3 234.3h0" stroke="#00ffa4"/>
<path d="M444.4 133.1h0" stroke="#003bff"/>
<path d="M302.7 238.8h0" stroke="#00ffb3"/>
<path d="M209.0 320.9h0" stroke="#00ff0c"/>
<path d="M483.4 103.6h0" stroke="#008bff"/>
<path d="M179.1 344.5h0" stroke="#08fd06"/>
<path d="M376.4 176.8h0" stroke="#79e15b"/>
<path d="M280.3 261.5h0" stroke="#008aff"/>
<path d="M255.0 283.3h0" stroke="#00ffb3"/>
<path d="M168.4 344.1h0" stroke="#00f6ff"/>
<path d="M318.4 235.8h0" stroke="#00ff17"/>
<path d="M280.4 251.9h0" stroke="#66e64c"/>
<path d="M267.2 274.2h0" stroke="#00ff92"/>
<path d="M439.0 138.5h0" stroke="#00a7ff"/>
<path d="M137.7 369.3h0" stroke="#007fff"/>
<path d="M260.2 284.2h0" stroke="#82df62"/>
<path d="M359.5 191.0h0" stroke="#4aed38"/>
<path d="M273.3 265.1h0" stroke="#0018ff"/>
<path d="M366.7 188.6h0" stroke="#00ff87"/>
<path d="M292.3 244.6h0" stroke="#0dfc0a"/>
<path d="M459.3 121.6h0" stroke="#0047ff"/>
<path d="M288.5 258.2h0" stroke="#00ff60"/>
<path d="M228.3 298.2h0" stroke="#00bfff"/>
<path d="M352.3 194.1h0" stroke="#bad18c"/>
<path d="M407.0 166.6h0" stroke="#00ff34"/>
<path d="M374.6 187.0h0" stroke="#0025ff"/>
<path d="M275.6 267.5h0" stroke="#00ffa3"/>
<path d="M401.7 169.4h0" stroke="#0fa"/>
<path d="M261.9 283.5h0" stroke="#9ed877"/>
<path d="M338.4 209.4h0" stroke="#00ff1d"/>
<path d="M397.7 159.5h0" stroke="#9bd975"/>
<path d="M411.8 154.1h0" stroke="#00ffbc"/>
<path d="M247.4 271.7h0" stroke="#ff9898"/>
<path d="M239.7 301.5h0" stroke="#bed08f"/>
<path d="M388.7 182.8h0" stroke="#3fef30"/>
<path d="M414.2 164.2h0" stroke="#74e257"/>
<path d="M488.4 100.8h0" stroke="#00ecff"/>
<path d="M239.2 299.8h0" stroke="#64e64b"/>
<path d="M475.8 108.2h0" stroke="#0015ff"/>
<path d="M272.1 275.0h0" stroke="#88de66"/>
<path d="M143.1 363.5h0" stroke="#00ffed"/>
<path d="M461.4 138.4h0" stroke="#ff3d3d"/>
<path d="M229.4 305.2h0" stroke="#03fe02"/>
<path d="M186.2 327.9h0" stroke="#00ff31"/>
<path d="M502.5 72.4h0" stroke="#ff8787"/>
<path d="M368.7 200.8h0" stroke="#afd484"/>
<path d="M245.9 283.5h0" stroke="#00ffe5"/>
<path d="M273.0 267.1h0" stroke="#0086ff"/>
<path d="M338.7 208.4h0" stroke="#14fa0f"/>
<path d="M484.6 101.4h0" stroke="#0016ff"/>
<path d="M499.8 98.5h0" stroke="#9ad974"/>
<path d="M228.6 303.1h0" stroke="#00fff0"/>
<path d="M377.7 172.5h0" stroke="#ffbcbc"/>
<path d="M294.9 255.8h0" stroke="#4e3"/>
<path d="M393.3 174.3h0" stroke="#00c7ff"/>
<path d="M442.4 128.4h0" stroke="#00ff12"/>
<path d="M280.7 262.2h0" stroke="#00e4ff"/>
<path d="M188.4 337.4h0" stroke="#0efc0a"/>
<path d="M324.6 235.2h0" stroke="#b0d385"/>
<path d="M246.9 285.8h0" stroke="#0009ff"/>
<path d="M433.2 140.7h0" stroke="#0024ff"/>
<path d="M141.4 370.8h0" stroke="#0ff"/>
<path d="M397.4 165.2h0" stroke="#00ffb0"/>
<path d="M204.6 313.2h0" stroke="#0f1"/>
<path d="M399.3 159.6h0" stroke="#5ce845"/>
<path d="M450.1 127.6h0" stroke="#001cff"/>
<path d="M281.6 257.0h0" stroke="#00aeff"/>
<path d="M380.1 174.2h0" stroke="#70e354"/>
<path d="M437.3 135.3h0" stroke="#00e7ff"/>
<path d="M292.8 253.7h0" stroke="#00ffc3"/>
<path d="M451.2 120.1h0" stroke="#3bf02c"/>
<path d="M405.4 150.4h0" stroke="#ffb2b2"/>
<path d="M360.0 204.8h0" stroke="#31f325"/>
<path d="M150.9 361.1h0" stroke="#0035ff"/>
<path d="M374.9 179.5h0" stroke="#35f228"/>
<path d="M229.3 305.8h0" stroke="#17f911"/>
<path d="M426.4 148.9h0" stroke="#00e2ff"/>
<path d="M238.5 289.5h0" stroke="#00fffc"/>
<path d="M136.9 372.3h0" stroke="#0053ff"/>
<path d="M134.3 374.1h0" stroke="#003aff"/>
<path d="M212.6 310.3h0" stroke="#00c3ff"/>
<path d="M282.7 254.0h0" stroke="#00ff95"/>
<path d="M183.2 342.9h0" stroke="#4cec39"/>
<path d="M232.3 301.1h0" stroke="#00ffab"/>
<path d="M218.9 309.7h0" stroke="#00b6ff"/>
<path d="M280.5 248.1h0" stroke="#ffbcbc"/>
<path d="M329.6 213.8h0" stroke="#5fe748"/>
<path d="M330.8 215.4h0" stroke="#00ff24"/>
<path d="M389.8 180.7h0" stroke="#0bfc08"/>
<path d="M467.3 120.5h0" stroke="#08fd06"/>
<path d="M337.5 213.8h0" stroke="#0091ff"/>
<path d="M190.9 327.1h0" stroke="#00d1ff"/>
<path d="M503.5 80.4h0" stroke="#0dfc0a"/>
<path d="M390.2 180.5h0" stroke="#0bfc08"/>
<path d="M198.2 321.7h0" stroke="#00b6ff"/>
<path d="M468.6 107.9h0" stroke="#00ff07"/>
<path d="M469.0 119.0h0" stroke="#00ff01"/>
<path d="M299.1 253.4h0" stroke="#68e54e"/>
<path d="M261.0 281.9h0" stroke="#39f12b"/>
<path d="M299.6 249.8h0" stroke="#00ff46"/>
<path d="M168.7 350.2h0" stroke="#00ffc7"/>
<path d="M440.0 133.7h0" stroke="#00c1ff"/>
<path d="M412.1 154.2h0" stroke="#0fd"/>
<path d="M409.1 167.3h0" stroke="#4fec3b"/>
<path d="M275.5 270.2h0" stroke="#26f61c"/>
<path d="M242.5 290.7h0" stroke="#007aff"/>
<path d="M300.0 248.2h0" stroke="#00ffbe"/>
<path d="M473.4 98.3h0" stroke="#ffbdbd"/>
<path d="M342.1 212.5h0" stroke="#002fff"/>
<path d="M473.1 108.9h0" stroke="#006dff"/>
<path d="M403.9 156.9h0" stroke="#37f12a"/>
<path d="M369.9 188.4h0" stroke="#00a6ff"/>
<path d="M305.5 245.2h0" stroke="#00ff4f"/>
<path d="M256.7 286.5h0" stroke="#6fe354"/>
<path d="M390.6 178.6h0" stroke="#00ff7b"/>
<path d="M160.3 356.2h0" stroke="#00fff1"/>
<path d="M204.5 323.9h0" stroke="#00ff39"/>
<path d="M373.0 185.6h0" stroke="#00caff"/>
<path d="M245.8 287.2h0" stroke="#0028ff"/>
<path d="M330.6 233.1h0" stroke="#ffb1b1"/>
<path d="M412.2 157.7h0" stroke="#001cff"/>
<path d="M385.6 188.4h0" stroke="#cccd9a"/>
<path d="M455.4 116.2h0" stroke="#53eb3e"/>
<path d="M370.4 202.9h0" stroke="#ffa6a6"/>
<path d="M225.1 298.8h0" stroke="#00ff94"/>
<path d="M283.6 269.8h0" stroke="#ffb0b0"/>
<path d="M368.1 197.3h0" stroke="#00ff10"/>
<path d="M352.9 198.4h0" stroke="#00ff3a"/>
<path d="M330.5 224.2h0" stroke="#00ffe0"/>
<path d="M207.0 320.8h0" stroke="#00ffa5"/>
<path d="M319.1 239.3h0" stroke="#a7d67e"/>
<path d="M416.6 146.0h0" stroke="#67e54e"/>
<path d="M464.4 119.8h0" stroke="#00fff4"/>
<path d="M184.2 335.3h0" stroke="#003bff"/>
<path d="M173.1 342.1h0" stroke="#0069ff"/>
<path d="M407.7 162.2h0" stroke="#0071ff"/>
<path d="M451.7 131.4h0" stroke="#00ff5c"/>
<path d="M410.0 166.6h0" stroke="#52eb3e"/>
<path d="M360.6 199.2h0" stroke="#0094ff"/>
<path d="M438.7 130.9h0" stroke="#0cfc09"/>
<path d="M177.4 340.3h0" stroke="#0029ff"/>
<path d="M463.0 113.4h0" stroke="#00ff6c"/>
<path d="M349.4 204.2h0" stroke="#00baff"/>
<path d="M388.8 172.6h0" stroke="#0fe"/>
<path d="M358.5 193.6h0" stroke="#00ff0e"/>
<path d="M455.8 119.1h0" stroke="#00ff74"/>
<path d="M293.8 243.0h0" stroke="#1ff717"/>
<path d="M360.5 202.5h0" stroke="#00ff47"/>
<path d="M410.4 163.5h0" stroke="#00ff5e"/>
<path d="M387.2 175.5h0" stroke="#007dff"/>
<path d="M325.1 218.6h0" stroke="#23f61b"/>
<path d="M283.3 256.5h0" stroke="#0061ff"/>
<path d="M429.1 155.4h0" stroke="#f4c3b7"/>
<path d="M370.7 181.5h0" stroke="#6de452"/>
<path d="M147.2 369.4h0" stroke="#0efc0a"/>
<path d="M225.1 304.4h0" stroke="#008bff"/>
<path d="M349.1 201.0h0" stroke="#00ff12"/>
<path d="M276.6 271.6h0" stroke="#89dd67"/>
<path d="M154.9 358.7h0" stroke="#0075ff"/>
<path d="M391.5 169.3h0" stroke="#00ff87"/>
<path d="M404.9 170.0h0" stroke="#37f12a"/>
<path d="M325.2 233.7h0" stroke="#82df62"/>
<path d="M224.8 308.6h0" stroke="#00ff0f"/>
<path d="M249.1 291.3h0" stroke="#3df02e"/>
<path d="M293.2 257.7h0" stroke="#60e748"/>
<path d="M446.6 134.0h0" stroke="#00ffd5"/>
<path d="M362.1 199.5h0" stroke="#00ffe5"/>
<path d="M451.0 129.8h0" stroke="#00e4ff"/>
<path d="M302.6 244.9h0" stroke="#00ceff"/>
<path d="M230.1 299.4h0" stroke="#02f"/>
<path d="M235.9 298.5h0" stroke="#00ff94"/>
<path d="M246.5 293.5h0" stroke="#47ed36"/>
<path d="M172.6 348.7h0" stroke="#00ff3c"/>
<path d="M192.6 335.3h0" stroke="#43ee33"/>
<path d="M449.3 127.6h0" stroke="#0057ff"/>
<path d="M395.2 169.4h0" stroke="#0071ff"/>
<path d="M292.6 247.3h0" stroke="#00ffec"/>
<path d="M213.0 310.4h0" stroke="#00a6ff"/>
<path d="M175.6 341.6h0" stroke="#001bff"/>
<path d="M376.4 161.8h0" stroke="#fd0d18"/>
<path d="M443.2 137.6h0" stroke="#00ff7e"/>
<path d="M299.2 245.8h0" stroke="#002fff"/>
<path d="M353.9 213.1h0" stroke="#cdcc9a"/>
<path d="M408.0 155.5h0" stroke="#00ff2c"/>
<path d="M385.8 192.2h0" stroke="#ff9090"/>
<path d="M174.0 338.3h0" stroke="#00ff84"/>
<path d="M466.2 109.3h0" stroke="#13fa0f"/>
<path d="M379.3 181.3h0" stroke="#0092ff"/>
<path d="M144.1 373.3h0" stroke="#4feb3b"/>
<path d="M447.6 128.1h0" stroke="#009fff"/>
<path d="M366.0 186.9h0" stroke="#1ef816"/>
<path d="M302.1 244.6h0" stroke="#0093ff"/>
<path d="M442.1 129.5h0" stroke="#00ff5c"/>
<path d="M215.1 316.2h0" stroke="#00ff10"/>
<path d="M339.7 217.8h0" stroke="#00ff96"/>
<path d="M196.3 331.3h0" stroke="#0efc0a"/>
<path d="M364.5 199.1h0" stroke="#00ff67"/>
<path d="M295.6 253.8h0" stroke="#04fe03"/>
<path d="M266.4 268.8h0" stroke="#00b0ff"/>
<path d="M458.3 117.7h0" stroke="#00ff9d"/>
<path d="M487.8 95.1h0" stroke="#00ffc6"/>
<path d="M372.6 189.6h0" stroke="#007fff"/>
<path d="M173.9 343.9h0" stroke="#0075ff"/>
<path d="M469.7 101.2h0" stroke="#ffbebe"/>
<path d="M385.7 169.5h0" stroke="#7fe05f"/>
<path d="M249.5 282.4h0" stroke="#0080ff"/>
<path d="M217.6 313.7h0" stroke="#00ff3b"/>
<path d="M430.0 143.6h0" stroke="#00f"/>
<path d="M278.3 266.6h0" stroke="#00ff36"/>
<path d="M342.6 217.6h0" stroke="#0efb0b"/>
<path d="M238.1 300.1h0" stroke="#4aed38"/>
<path d="M215.6 305.9h0" stroke="#00ff7a"/>
<path d="M273.3 271.5h0" stroke="#12fa0e"/>
<path d="M434.9 140.9h0" stroke="#0064ff"/>
<path d="M277.6 263.6h0" stroke="#008fff"/>
<path d="M330.2 212.4h0" stroke="#87de65"/>
<path d="M223.3 310.1h0" stroke="#08fd06"/>
<path d="M233.7 295.6h0" stroke="#0035ff"/>
<path d="M256.4 275.3h0" stroke="#00ffe0"/>
<path d="M190.5 335.2h0" stroke="#00ff1b"/>
<path d="M426.6 148.4h0" stroke="#00c5ff"/>
<path d="M263.8 278.6h0" stroke="#06fe04"/>
<path d="M357.0 193.1h0" stroke="#46ee34"/>
<path d="M232.0 293.4h0" stroke="#00ff94"/>
<path d="M444.2 121.4h0" stroke="#f4c3b8"/>
<path d="M340.3 217.1h0" stroke="#0fa"/>
<path d="M211.5 321.4h0" stroke="#66e64d"/>
<path d="M356.8 201.3h0" stroke="#0048ff"/>
<path d="M397.6 181.5h0" stroke="#faa"/>
<path d="M356.6 201.3h0" stroke="#003aff"/>
<path d="M396.9 175.5h0" stroke="#15fa10"/>
<path d="M441.8 147.3h0" stroke="#ffa7a7"/>
<path d="M350.4 208.6h0" stroke="#00ffe8"/>
<path d="M364.9 197.1h0" stroke="#00fff7"/>
<path d="M149.2 365.3h0" stroke="#00ffcb"/>
<path d="M497.2 87.3h0" stroke="#00ff97"/>
<path d="M317.4 227.2h0" stroke="#00ffa2"/>
<path d="M238.5 292.0h0" stroke="#02f"/>
<path d="M439.5 134.4h0" stroke="#009fff"/>
<path d="M401.3 157.8h0" stroke="#6be551"/>
<path d="M269.3 265.2h0" stroke="#00ffd9"/>
<path d="M243.9 292.4h0" stroke="#00ff87"/>
<path d="M186.4 335.2h0" stroke="#00ceff"/>
<path d="M370.1 193.3h0" stroke="#00ffe5"/>
<path d="M228.2 300.4h0" stroke="#0003ff"/>
<path d="M286.4 252.0h0" stroke="#00ffe1"/>
<path d="M245.2 279.8h0" stroke="#4cec39"/>
<path d="M466.2 116.9h0" stroke="#0084ff"/>
<path d="M342.3 216.8h0" stroke="#00ff3c"/>
<path d="M325.0 228.6h0" stroke="#00ffd1"/>
<path d="M295.5 249.6h0" stroke="#0085ff"/>
<path d="M477.1 97.4h0" stroke="#aed483"/>
<path d="M467.0 113.5h0" stroke="#0076ff"/>
<path d="M329.9 210.7h0" stroke="#dec8a7"/>
<path d="M323.9 217.0h0" stroke="#93db6f"/>
<path d="M251.7 283.8h0" stroke="#008bff"/>
<path d="M206.4 320.3h0" stroke="#00fffb"/>
<path d="M202.5 319.2h0" stroke="#0067ff"/>
<path d="M157.6 353.4h0" stroke="#00a6ff"/>
<path d="M394.5 168.3h0" stroke="#0ff"/>
<path d="M190.2 328.1h0" stroke="#00a4ff"/>
<path d="M272.1 266.8h0" stroke="#002fff"/>
<path d="M427.2 145.1h0" stroke="#003fff"/>
<path d="M241.7 299.0h0" stroke="#94da70"/>
<path d="M204.9 319.4h0" stroke="#004bff"/>
<path d="M272.2 262.4h0" stroke="#00ffa6"/>
<path d="M262.3 272.2h0" stroke="#009aff"/>
<path d="M315.9 232.6h0" stroke="#0020ff"/>
<path d="M383.9 174.4h0" stroke="#00ff3e"/>
<path d="M182.2 337.6h0" stroke="#007eff"/>
<path d="M299.1 239.7h0" stroke="#00ff09"/>
<path d="M503.8 85.7h0" stroke="#0035ff"/>
<path d="M324.2 228.8h0" stroke="#0fe"/>
<path d="M352.2 208.1h0" stroke="#00ff93"/>
<path d="M429.2 134.8h0" stroke="#a4d67c"/>
<path d="M210.3 312.6h0" stroke="#0098ff"/>
<path d="M367.0 194.6h0" stroke="#00b5ff"/>
<path d="M361.7 196.5h0" stroke="#000bff"/>
<path d="M215.2 304.8h0" stroke="#00ff01"/>
<path d="M327.6 224.9h0" stroke="#0098ff"/>
<path d="M446.0 133.2h0" stroke="#00baff"/>
<path d="M159.9 353.3h0" stroke="#0017ff"/>
<path d="M261.4 281.1h0" stroke="#22f71a"/>
<path d="M335.5 224.3h0" stroke="#46ee34"/>
<path d="M381.1 187.8h0" stroke="#15fa0f"/>
<path d="M412.1 156.7h0" stroke="#0041ff"/>
<path d="M263.6 278.2h0" stroke="#00ff29"/>
<path d="M248.4 288.6h0" stroke="#00ffa4"/>
<path d="M159.6 345.1h0" stroke="#80df61"/>
<path d="M248.6 288.6h0" stroke="#00ff95"/>
<path d="M404.9 158.1h0" stroke="#00ff3b"/>
<path d="M443.5 124.4h0" stroke="#83df63"/>
<path d="M414.0 150.1h0" stroke="#0afc08"/>
<path d="M254.1 274.9h0" stroke="#00ff1d"/>
<path d="M458.4 119.1h0" stroke="#00d7ff"/>
<path d="M166.8 350.2h0" stroke="#00b7ff"/>
<path d="M335.5 217.1h0" stroke="#0007ff"/>
<path d="M466.5 116.3h0" stroke="#0063ff"/>
<path d="M321.7 227.3h0" stroke="#0029ff"/>
<path d="M224.7 308.1h0" stroke="#00ff41"/>
<path d="M366.7 194.0h0" stroke="#0072ff"/>
<path d="M302.3 241.6h0" stroke="#0073ff"/>
<path d="M264.2 277.2h0" stroke="#00ff52"/>
<path d="M248.1 289.1h0" stroke="#00ff8a"/>
<path d="M213.6 316.5h0" stroke="#00ff5a"/>
<path d="M226.8 302.6h0" stroke="#0061ff"/>
<path d="M248.0 279.8h0" stroke="#00ff2d"/>
<path d="M196.0 325.4h0" stroke="#0009ff"/>
<path d="M408.6 157.5h0" stroke="#00f6ff"/>
<path d="M448.2 125.7h0" stroke="#00ffad"/>
<path d="M316.2 233.9h0" stroke="#00a8ff"/>
<path d="M380.7 184.0h0" stroke="#00c2ff"/>
<path d="M243.4 286.6h0" stroke="#00b4ff"/>
<path d="M355.2 198.0h0" stroke="#00ffb4"/>
<path d="M179.7 335.6h0" stroke="#00e4ff"/>
<path d="M298.0 250.1h0" stroke="#00ff9a"/>
<path d="M270.9 260.4h0" stroke="#35f228"/>
<path d="M331.5 207.9h0" stroke="#ffb2b2"/>
<path d="M275.3 261.6h0" stroke="#00c9ff"/>
<path d="M413.8 163.8h0" stroke="#54ea3f"/>
<path d="M185.0 341.7h0" stroke="#58e942"/>
<path d="M219.6 303.6h0" stroke="#00ffc6"/>
<path d="M272.4 256.2h0" stroke="#b9d18b"/>
<path d="M204.5 316.7h0" stroke="#00bcff"/>
<path d="M226.2 305.2h0" stroke="#00ffe1"/>
<path d="M423.1 145.1h0" stroke="#00ffa9"/>
<path d="M178.6 336.6h0" stroke="#00d2ff"/>
<path d="M340.9 215.2h0" stroke="#00d0ff"/>
<path d="M381.5 174.7h0" stroke="#27f51d"/>
<path d="M477.3 102.9h0" stroke="#00ff9e"/>
<path d="M447.2 116.7h0" stroke="#ff9e9e"/>
<path d="M142.5 365.1h0" stroke="#00b1ff"/>
<path d="M410.3 158.9h0" stroke="#0006ff"/>
<path d="M403.8 163.4h0" stroke="#002eff"/>
<path d="M236.5 294.0h0" stroke="#0004ff"/>
<path d="M209.3 315.7h0" stroke="#0032ff"/>
<path d="M293.3 254.0h0" stroke="#00ff85"/>
<path d="M384.2 184.5h0" stroke="#00ff21"/>
<path d="M494.2 94.0h0" stroke="#02f"/>
<path d="M233.2 299.7h0" stroke="#00ffe8"/>
<path d="M326.0 218.5h0" stroke="#0dfc09"/>
<path d="M330.4 220.0h0" stroke="#05f"/>
<path d="M281.9 259.4h0" stroke="#04f"/>
<path d="M391.0 173.9h0" stroke="#0005ff"/>
<path d="M164.9 346.2h0" stroke="#00ffc9"/>
<path d="M202.7 324.1h0" stroke="#00ffa4"/>
<path d="M211.6 313.1h0" stroke="#001bff"/>
<path d="M447.0 126.9h0" stroke="#00ffc7"/>
<path d="M314.8 239.1h0" stroke="#0efc0a"/>
<path d="M362.7 192.7h0" stroke="#0fd"/>
<path d="M223.1 306.0h0" stroke="#008dff"/>
<path d="M165.7 354.2h0" stroke="#00ff31"/>
<path d="M150.8 363.9h0" stroke="#00ffd7"/>
<path d="M433.2 145.1h0" stroke="#00ff9c"/>
<path d="M144.2 368.9h0" stroke="#00ffe6"/>
<path d="M315.1 228.9h0" stroke="#00ff9b"/>
<path d="M380.1 182.3h0" stroke="#0008ff"/>
<path d="M201.4 328.0h0" stroke="#2df422"/>
<path d="M431.1 137.3h0" stroke="#00ff19"/>
<path d="M178.6 339.6h0" stroke="#003aff"/>
<path d="M318.0 228.9h0" stroke="#009eff"/>
<path d="M355.3 199.9h0" stroke="#0098ff"/>
<path d="M448.0 145.3h0" stroke="#ff7878"/>
<path d="M305.8 244.8h0" stroke="#00ff5c"/>
<path d="M284.0 261.0h0" stroke="#00ff97"/>
<path d="M297.2 238.9h0" stroke="#63e74a"/>
<path d="M430.9 150.0h0" stroke="#3fef2f"/>
<path d="M454.8 116.4h0" stroke="#61e749"/>
<path d="M157.7 357.0h0" stroke="#009aff"/>
<path d="M241.5 292.6h0" stroke="#00e6ff"/>
<path d="M316.3 242.1h0" stroke="#c4cf94"/>
<path d="M161.1 355.1h0" stroke="#00e2ff"/>
<path d="M243.3 295.8h0" stroke="#3bf02c"/>
<path d="M278.3 266.5h0" stroke="#00ff3e"/>
<path d="M260.8 267.8h0" stroke="#4e3"/>
<path d="M361.8 189.0h0" stroke="#55ea40"/>
<path d="M217.5 307.5h0" stroke="#006eff"/>
<path d="M312.6 243.8h0" stroke="#94da6f"/>
<path d="M346.5 220.2h0" stroke="#fbb"/>
<path d="M255.9 281.5h0" stroke="#00e6ff"/>
<path d="M458.5 128.0h0" stroke="#25f61c"/>
<path d="M218.1 316.8h0" stroke="#7fe05f"/>
<path d="M489.9 90.4h0" stroke="#28f51e"/>
<path d="M255.6 280.7h0" stroke="#008aff"/>
<path d="M438.1 149.4h0" stroke="#ffb3b3"/>
<path d="M194.7 325.8h0" stroke="#0037ff"/>
<path d="M288.2 246.2h0" stroke="#54ea3f"/>
<path d="M280.3 254.9h0" stroke="#00ff38"/>
<path d="M246.1 279.8h0" stroke="#2ef423"/>
<path d="M394.1 173.0h0" stroke="#0085ff"/>
<path d="M462.3 113.0h0" stroke="#00ff16"/>
<path d="M404.3 159.2h0" stroke="#00ff72"/>
<path d="M331.1 218.4h0" stroke="#00b9ff"/>
<path d="M415.5 156.3h0" stroke="#007dff"/>
<path d="M448.0 123.5h0" stroke="#12fa0e"/>
<path d="M412.2 167.9h0" stroke="#d4cba0"/>
<path d="M309.1 245.9h0" stroke="#78e15a"/>
<path d="M463.0 104.1h0" stroke="#ff9898"/>
<path d="M384.2 173.1h0" stroke="#10fb0c"/>
<path d="M328.2 219.7h0" stroke="#00fff0"/>
<path d="M357.1 200.6h0" stroke="#0026ff"/>
<path d="M308.5 243.7h0" stroke="#0f0"/>
<path d="M151.8 363.9h0" stroke="#00ff8f"/>
<path d="M182.9 342.1h0" stroke="#22f719"/>
<path d="M365.0 188.0h0" stroke="#10fb0c"/>
<path d="M200.1 322.4h0" stroke="#000dff"/>
<path d="M326.8 219.1h0" stroke="#00ff57"/>
<path d="M221.6 308.5h0" stroke="#00fff6"/>
<path d="M331.0 217.7h0" stroke="#00f6ff"/>
<path d="M290.5 246.8h0" stroke="#00ff27"/>
<path d="M405.5 163.1h0" stroke="#0023ff"/>
<path d="M193.2 324.1h0" stroke="#00ffc6"/>
<path d="M154.2 364.3h0" stroke="#19f913"/>
<path d="M457.0 128.3h0" stroke="#0f0"/>
<path d="M307.5 237.2h0" stroke="#008fff"/>
<path d="M224.9 299.0h0" stroke="#00ff98"/>
<path d="M307.6 241.0h0" stroke="#00caff"/>
<path d="M414.0 165.0h0" stroke="#94da70"/>
<path d="M268.9 266.0h0" stroke="#00f8ff"/>
<path d="M489.1 97.8h0" stroke="#000eff"/>
<path d="M190.2 329.8h0" stroke="#000fff"/>
<path d="M462.3 119.0h0" stroke="#002bff"/>
<path d="M194.4 328.2h0" stroke="#008bff"/>
<path d="M343.1 207.6h0" stroke="#00ffc0"/>
<path d="M332.3 223.7h0" stroke="#00ff8d"/>
<path d="M191.9 322.1h0" stroke="#26f61c"/>
<path d="M377.4 187.7h0" stroke="#00ffdc"/>
<path d="M415.3 149.7h0" stroke="#00ff23"/>
<path d="M409.5 155.7h0" stroke="#00ffb0"/>
<path d="M196.3 321.9h0" stroke="#00ffd4"/>
<path d="M266.9 271.1h0" stroke="#0049ff"/>
<path d="M162.6 356.6h0" stroke="#00ff30"/>
<path d="M184.1 340.6h0" stroke="#06fe04"/>
<path d="M425.4 144.9h0" stroke="#00c9ff"/>
<path d="M324.0 223.4h0" stroke="#00e7ff"/>
<path d="M133.4 381.2h0" stroke="#3cf02d"/>
<path d="M347.8 204.9h0" stroke="#00e6ff"/>
<path d="M347.1 203.7h0" stroke="#00ff7c"/>
<path d="M385.7 180.7h0" stroke="#00f4ff"/>
<path d="M432.3 144.8h0" stroke="#00ffed"/>
<path d="M222.3 312.6h0" stroke="#53eb3e"/>
<path d="M445.4 135.1h0" stroke="#00ffca"/>
<path d="M182.3 338.8h0" stroke="#00f1ff"/>
<path d="M179.6 338.0h0" stroke="#0013ff"/>
<path d="M272.3 268.0h0" stroke="#00abff"/>
<path d="M198.6 327.3h0" stroke="#00ffa6"/>
<path d="M400.5 166.0h0" stroke="#002fff"/>
<path d="M250.5 295.3h0" stroke="#ffb3b3"/>
<path d="M460.6 120.7h0" stroke="#004bff"/>
<path d="M279.3 268.6h0" stroke="#5fe847"/>
<path d="M418.6 154.1h0" stroke="#0095ff"/>
<path d="M272.4 270.3h0" stroke="#00ff85"/>
<path d="M200.5 321.9h0" stroke="#0001ff"/>
<path d="M472.7 108.9h0" stroke="#0082ff"/>
<path d="M448.7 120.1h0" stroke="#94db6f"/>
<path d="M259.4 278.6h0" stroke="#00d9ff"/>
<path d="M234.3 294.8h0" stroke="#004dff"/>
<path d="M333.9 228.0h0" stroke="#b2d386"/>
<path d="M239.7 297.7h0" stroke="#16fa10"/>
<path d="M375.2 189.4h0" stroke="#00ffe1"/>
<path d="M304.5 239.1h0" stroke="#00b7ff"/>
<path d="M156.7 356.9h0" stroke="#004bff"/>
<path d="M333.6 223.3h0" stroke="#00ff51"/>
<path d="M145.6 361.8h0" stroke="#0ff"/>
<path d="M164.1 350.8h0" stroke="#002eff"/>
<path d="M192.6 334.1h0" stroke="#0cfc09"/>
<path d="M320.8 223.6h0" stroke="#00ff51"/>
<path d="M401.0 162.2h0" stroke="#00ffa0"/>
<path d="M354.8 207.1h0" stroke="#00ff34"/>
<path d="M246.3 293.4h0" stroke="#3df02e"/>
<path d="M372.0 178.4h0" stroke="#cdcc9a"/>
<path d="M158.3 355.5h0" stroke="#0040ff"/>
<path d="M361.9 193.3h0" stroke="#00ffe1"/>
<path d="M434.0 139.9h0" stroke="#03f"/>
<path d="M170.8 346.0h0" stroke="#05f"/>
<path d="M196.8 328.7h0" stroke="#00ffa4"/>
<path d="M348.0 208.8h0" stroke="#0081ff"/>
<path d="M343.6 207.8h0" stroke="#00fff7"/>
<path d="M270.0 274.3h0" stroke="#1ff717"/>
<path d="M176.0 345.5h0" stroke="#00ff69"/>
<path d="M388.1 167.9h0" stroke="#71e355"/>
<path d="M185.5 332.7h0" stroke="#0054ff"/>
<path d="M441.9 128.3h0" stroke="#11fb0d"/>
<path d="M422.3 140.2h0" stroke="#a0d878"/>
<path d="M287.7 258.4h0" stroke="#00ff7f"/>
<path d="M346.2 211.5h0" stroke="#0ff"/>
<path d="M362.3 187.7h0" stroke="#7de05e"/>
<path d="M417.8 155.9h0" stroke="#00feff"/>
<path d="M419.2 153.8h0" stroke="#00a6ff"/>
<path d="M429.4 138.7h0" stroke="#00ff24"/>
<path d="M302.2 239.7h0" stroke="#00ffe2"/>
<path d="M349.5 202.4h0" stroke="#00ffb0"/>
<path d="M254.7 279.1h0" stroke="#003fff"/>
<path d="M142.3 371.3h0" stroke="#00ff8b"/>
<path d="M236.3 292.0h0" stroke="#00baff"/>
<path d="M335.0 216.1h0" stroke="#0074ff"/>
<path d="M389.2 176.5h0" stroke="#006cff"/>
<path d="M394.9 165.3h0" stroke="#00ff0e"/>
<path d="M322.7 223.2h0" stroke="#00ffac"/>
<path d="M316.1 232.9h0" stroke="#0049ff"/>
<path d="M186.8 345.0h0" stroke="#ffafaf"/>
<path d="M303.6 234.7h0" stroke="#3ef02f"/>
<path d="M263.1 274.3h0" stroke="#0057ff"/>
<path d="M268.7 272.2h0" stroke="#00ffe2"/>
<path d="M344.7 205.2h0" stroke="#00ff5c"/>
<path d="M227.5 301.4h0" stroke="#0024ff"/>
<path d="M286.3 258.5h0" stroke="#00ffdb"/>
<path d="M145.9 369.1h0" stroke="#00ff57"/>
<path d="M334.1 227.0h0" stroke="#8fdc6b"/>
<path d="M263.0 268.2h0" stroke="#00ff32"/>
<path d="M188.4 333.5h0" stroke="#00bdff"/>
<path d="M450.5 123.1h0" stroke="#00ff68"/>
<path d="M486.0 94.1h0" stroke="#09fd07"/>
<path d="M376.4 176.1h0" stroke="#97da72"/>
<path d="M219.6 311.4h0" stroke="#00ff7e"/>
<path d="M278.2 264.8h0" stroke="#00ffe1"/>
<path d="M193.2 330.4h0" stroke="#00f5ff"/>
<path d="M412.3 155.0h0" stroke="#00d6ff"/>
<path d="M311.6 234.2h0" stroke="#007eff"/>
<path d="M221.6 298.6h0" stroke="#37f229"/>
<path d="M276.2 275.2h0" stroke="#ffb5b5"/>
<path d="M441.2 131.2h0" stroke="#00ffb5"/>
<path d="M236.9 292.1h0" stroke="#008fff"/>
<path d="M151.3 351.7h0" stroke="#7ee05e"/>
<path d="M317.1 231.0h0" stroke="#001eff"/>
<path d="M213.1 321.3h0" stroke="#97da72"/>
<path d="M426.0 144.2h0" stroke="#0df"/>
<path d="M174.4 348.1h0" stroke="#08fd06"/>
<path d="M162.0 350.1h0" stroke="#009aff"/>
<path d="M245.4 293.1h0" stroke="#0efc0b"/>
<path d="M446.3 133.8h0" stroke="#00fff7"/>
<path d="M467.4 105.2h0" stroke="#a0d778"/>
<path d="M371.9 182.8h0" stroke="#0cfc09"/>
<path d="M251.2 281.0h0" stroke="#0084ff"/>
<path d="M363.3 200.7h0" stroke="#00ff29"/>
<path d="M370.0 184.5h0" stroke="#00ff04"/>
<path d="M400.4 162.4h0" stroke="#00ff8e"/>
<path d="M150.8 361.3h0" stroke="#0040ff"/>
<path d="M433.2 146.2h0" stroke="#00ff38"/>
<path d="M419.0 146.2h0" stroke="#0afd07"/>
<path d="M257.9 281.1h0" stroke="#00ffb2"/>
<path d="M258.5 278.9h0" stroke="#00b7ff"/>
<path d="M409.3 156.9h0" stroke="#00f8ff"/>
<path d="M266.6 274.1h0" stroke="#00ffc5"/>
<path d="M147.5 365.1h0" stroke="#00a7ff"/>
<path d="M297.2 247.6h0" stroke="#0048ff"/>
<path d="M413.1 153.5h0" stroke="#00ffe1"/>
<path d="M259.4 275.6h0" stroke="#0034ff"/>
<path d="M210.7 319.8h0" stroke="#01ff01"/>
<path d="M153.0 362.8h0" stroke="#00ffa0"/>
<path d="M273.9 273.2h0" stroke="#74e258"/>
<path d="M478.2 102.7h0" stroke="#00ffce"/>
<path d="M391.0 175.1h0" stroke="#006fff"/>
<path d="M326.1 219.5h0" stroke="#00ff50"/>
<path d="M422.2 158.2h0" stroke="#7fe060"/>
<path d="M341.2 215.0h0" stroke="#00d6ff"/>
<path d="M411.9 156.7h0" stroke="#0056ff"/>
<path d="M311.4 239.7h0" stroke="#00ffa2"/>
<path d="M352.1 201.9h0" stroke="#00cbff"/>
<path d="M165.8 352.1h0" stroke="#00ffe3"/>
<path d="M449.3 136.9h0" stroke="#74e257"/>
<path d="M472.7 95.5h0" stroke="#ff8787"/>
<path d="M395.7 158.2h0" stroke="#ffb5b5"/>
<path d="M170.3 349.9h0" stroke="#00ff6e"/>
<path d="M165.7 358.2h0" stroke="#9dd876"/>
<path d="M450.3 120.5h0" stroke="#45ee34"/>
<path d="M243.5 284.1h0" stroke="#00ff72"/>
<path d="M319.7 220.1h0" stroke="#9bd975"/>
<path d="M217.6 314.0h0" stroke="#00ff23"/>
<path d="M298.3 244.6h0" stroke="#0072ff"/>
<path d="M469.7 109.6h0" stroke="#00ffe5"/>
<path d="M298.4 239.7h0" stroke="#15fa10"/>
<path d="M280.3 262.9h0" stroke="#00fff3"/>
<path d="M419.4 143.5h0" stroke="#72e356"/>
<path d="M221.8 305.8h0" stroke="#0026ff"/>
<path d="M240.6 296.3h0" stroke="#00ff0e"/>
<path d="M241.6 287.7h0" stroke="#00cdff"/>
<path d="M195.0 334.9h0" stroke="#84de63"/>
<path d="M372.5 189.8h0" stroke="#0085ff"/>
<path d="M475.9 113.2h0" stroke="#00ff27"/>
<path d="M233.9 290.9h0" stroke="#00ff38"/>
<path d="M385.6 186.8h0" stroke="#84de63"/>
<path d="M192.2 329.2h0" stroke="#0049ff"/>
<path d="M335.8 219.4h0" stroke="#00e4ff"/>
<path d="M291.3 250.7h0" stroke="#0039ff"/>
<path d="M522.7 75.4h0" stroke="#00ffa7"/>
<path d="M421.6 147.6h0" stroke="#00deff"/>
<path d="M394.7 165.3h0" stroke="#00ff03"/>
<path d="M447.9 142.9h0" stroke="#ffa2a2"/>
<path d="M348.1 212.0h0" stroke="#0f5"/>
<path d="M258.8 282.3h0" stroke="#00ff06"/>
<path d="M185.3 329.7h0" stroke="#00ff92"/>
<path d="M387.0 179.6h0" stroke="#00eaff"/>
<path d="M299.9 245.2h0" stroke="#002fff"/>
<path d="M424.5 139.9h0" stroke="#65e64c"/>
<path d="M308.1 246.1h0" stroke="#5ce845"/>
<path d="M229.7 306.4h0" stroke="#3ff02f"/>
<path d="M187.4 330.9h0" stroke="#0073ff"/>
<path d="M324.1 230.1h0" stroke="#00ff8d"/>
<path d="M296.5 250.8h0" stroke="#00ffc8"/>
<path d="M209.9 320.9h0" stroke="#17f911"/>
<path d="M326.1 233.5h0" stroke="#9bd975"/>
<path d="M203.9 323.2h0" stroke="#00ff9f"/>
<path d="M297.7 242.1h0" stroke="#00ff79"/>
<path d="M319.5 230.9h0" stroke="#0080ff"/>
<path d="M481.8 102.7h0" stroke="#0032ff"/>
<path d="M378.9 188.5h0" stroke="#00ff31"/>
<path d="M337.2 212.7h0" stroke="#00fff3"/>
<path d="M308.1 232.7h0" stroke="#00ff05"/>
<path d="M269.5 267.2h0" stroke="#0069ff"/>
<path d="M163.2 347.4h0" stroke="#00ffc5"/>
<path d="M282.3 256.2h0" stroke="#00c7ff"/>
<path d="M169.5 346.4h0" stroke="#0023ff"/>
<path d="M400.9 160.3h0" stroke="#09fd07"/>
<path d="M178.7 339.5h0" stroke="#0032ff"/>
<path d="M161.1 348.1h0" stroke="#00ff6e"/>
<path d="M347.8 208.2h0" stroke="#0046ff"/>
<path d="M268.5 267.7h0" stroke="#0085ff"/>
<path d="M492.2 96.6h0" stroke="#0076ff"/>
<path d="M262.5 275.3h0" stroke="#008cff"/>
<path d="M213.4 313.6h0" stroke="#0095ff"/>
<path d="M144.5 363.7h0" stroke="#00a5ff"/>
<path d="M186.3 337.2h0" stroke="#00ff85"/>
<path d="M159.2 356.2h0" stroke="#00bdff"/>
<path d="M388.0 180.0h0" stroke="#00ffad"/>
</g>
<path d="M88.20 409.25v-6.30M88.20 9.50v6.30M88.20 409.25h6.30M602.50 409.25h-6.30M161.67 409.25v-6.30M161.67 9.50v6.30M88.20 352.14h6.30M602.50 352.14h-6.30M235.14 409.25v-6.30M235.14 9.50v6.30M88.20 295.04h6.30M602.50 295.04h-6.30M308.61 409.25v-6.30M308.61 9.50v6.30M88.20 237.93h6.30M602.50 237.93h-6.30M382.09 409.25v-6.30M382.09 9.50v6.30M88.20 180.82h6.30M602.50 180.82h-6.30M455.56 409.25v-6.30M455.56 9.50v6.30M88.20 123.71h6.30M602.50 123.71h-6.30M529.03 409.25v-6.30M529.03 9.50v6.30M88.20 66.61h6.30M602.50 66.61h-6.30M602.50 409.25v-6.30M602.50 9.50v6.30M88.20 9.50h6.30M602.50 9.50h-6.30" stroke="#000" stroke-width="2.8" fill="none"/>
<rect x="88.20" y="9.50" width="514.30" height="399.75" fill="none" stroke="#000" stroke-width="3.0"/>
<g font-family='"Liberation Serif", serif' font-size="28" fill="#000"><text x="87.7" y="438.0" text-anchor="middle">-1.5</text><text x="76.0" y="417.9" text-anchor="end">-1.5</text><text x="161.2" y="438.0" text-anchor="middle">-1</text><text x="76.0" y="360.7" text-anchor="end">-1</text><text x="234.6" y="438.0" text-anchor="middle">-0.5</text><text x="76.0" y="303.6" text-anchor="end">-0.5</text><text x="311.9" y="438.0" text-anchor="middle">0</text><text x="76.0" y="246.5" text-anchor="end">0</text><text x="385.4" y="438.0" text-anchor="middle">0.5</text><text x="76.0" y="189.4" text-anchor="end">0.5</text><text x="458.9" y="438.0" text-anchor="middle">1</text><text x="76.0" y="132.3" text-anchor="end">1</text><text x="532.3" y="438.0" text-anchor="middle">1.5</text><text x="76.0" y="75.2" text-anchor="end">1.5</text><text x="605.8" y="438.0" text-anchor="middle">2</text><text x="76.0" y="18.1" text-anchor="end">2</text></g>
<text transform="translate(331.0 479.8) scale(1.13 1)" font-family='"Liberation Serif", serif' font-size="36" fill="#000">ε</text>
<text x="348.6" y="488.6" font-family='"Liberation Serif", serif' font-size="24" fill="#000">0</text>
<text transform="translate(29.6 239.0) rotate(-90) scale(1.13 1)" font-family='"Liberation Serif", serif' font-size="36" fill="#000">ε</text>
<text transform="translate(15.6 219.3) rotate(-90)" font-family='"Liberation Serif", serif' font-size="22" fill="#000">pred</text>
<defs><linearGradient id="cb" x1="0" y1="0" x2="0" y2="1"><stop offset="0.0000" stop-color="#ee82ee"/><stop offset="0.2000" stop-color="#f00"/><stop offset="0.6000" stop-color="#ffc0c0"/><stop offset="0.8000" stop-color="#0f0"/><stop offset="0.9000" stop-color="#0ff"/><stop offset="1.0000" stop-color="#00f"/></linearGradient></defs>
<rect x="613.4" y="20.5" width="21.6" height="223.5" fill="url(#cb)"/>
<path d="M635.00 244.00h-12.60M635.00 199.30h-12.60M635.00 154.60h-12.60M635.00 109.90h-12.60M635.00 65.20h-12.60M635.00 20.50h-12.60" stroke="#000" stroke-width="2.6" fill="none"/>
<g font-family='"Liberation Serif", serif' font-size="25" fill="#000"><text x="644.6" y="252.4">0</text><text x="644.6" y="207.7">0.05</text><text x="644.6" y="163.0">0.1</text><text x="644.6" y="118.3">0.15</text><text x="644.6" y="73.6">0.2</text><text x="644.6" y="28.9">0.25</text></g>
<rect x="404.80" y="203.70" width="180.40" height="165.80" fill="#fff"/>
<path d="M422.84 369.50v-5.80M422.84 203.70v5.80M458.92 369.50v-5.80M458.92 203.70v5.80M495.00 369.50v-5.80M495.00 203.70v5.80M531.08 369.50v-5.80M531.08 203.70v5.80M567.16 369.50v-5.80M567.16 203.70v5.80M404.80 369.50h5.80M585.20 369.50h-5.80M404.80 340.50h5.80M585.20 340.50h-5.80M404.80 311.50h5.80M585.20 311.50h-5.80M404.80 282.50h5.80M585.20 282.50h-5.80M404.80 253.50h5.80M585.20 253.50h-5.80M404.80 224.50h5.80M585.20 224.50h-5.80" stroke="#000" stroke-width="2.8" fill="none"/>
<rect x="404.80" y="203.70" width="180.40" height="165.80" fill="none" stroke="#000" stroke-width="3.0"/>
<path d="M404.8 369.5h0M406.4 369.5h0M407.9 369.5h0M409.5 369.5h0M411.0 369.5h0M412.6 369.5h0M414.1 369.5h0M415.7 369.5h0M417.2 369.5h0M418.8 369.5h0M420.3 369.5h0M421.9 369.5h0M423.4 369.5h0M425.0 369.5h0M426.5 369.5h0M428.1 369.5h0M429.6 369.5h0M431.2 369.5h0M432.7 369.5h0M434.3 369.5h0M435.8 369.4h0M437.4 369.4h0M438.9 369.4h0M440.5 369.3h0M442.0 369.2h0M443.6 369.1h0M445.1 369.0h0M446.7 368.8h0M448.2 368.5h0M449.8 368.0h0M451.3 367.6h0M452.9 366.9h0M454.4 365.9h0M456.0 364.7h0M457.5 363.3h0M459.1 361.4h0M460.7 359.9h0M462.2 356.3h0M463.8 353.6h0M465.3 350.1h0M466.9 344.9h0M468.4 339.5h0M470.0 334.6h0M471.5 328.9h0M473.1 321.2h0M474.6 314.0h0M476.2 304.7h0M477.7 297.7h0M479.3 290.6h0M480.8 281.1h0M482.4 275.6h0M483.9 269.4h0M485.5 258.6h0M487.0 251.1h0M488.6 245.8h0M490.1 240.4h0M491.7 231.2h0M493.2 233.1h0M494.8 218.9h0M496.3 214.8h0M497.9 219.8h0M499.4 214.8h0M501.0 219.9h0M502.5 218.4h0M504.1 231.9h0M505.6 235.5h0M507.2 239.5h0M508.7 247.8h0M510.3 265.3h0M511.8 272.1h0M513.4 281.2h0M515.0 293.2h0M516.5 300.3h0M518.1 313.3h0M519.6 320.5h0M521.2 329.6h0M522.7 335.0h0M524.3 342.1h0M525.8 347.6h0M527.4 352.5h0M528.9 355.2h0M530.5 358.6h0M532.0 361.1h0M533.6 363.1h0M535.1 364.7h0M536.7 366.0h0M538.2 366.9h0M539.8 367.6h0M541.3 368.1h0M542.9 368.5h0M544.4 368.8h0M546.0 369.0h0M547.5 369.2h0M549.1 369.3h0M550.6 369.3h0M552.2 369.4h0M553.7 369.4h0M555.3 369.5h0M556.8 369.5h0M558.4 369.5h0M559.9 369.5h0M561.5 369.5h0M563.0 369.5h0M564.6 369.5h0M566.1 369.5h0M567.7 369.5h0M569.3 369.5h0M570.8 369.5h0M572.4 369.5h0M573.9 369.5h0M575.5 369.5h0M577.0 369.5h0M578.6 369.5h0M580.1 369.5h0M581.7 369.5h0M583.2 369.5h0M584.8 369.5h0" stroke="#000" stroke-width="10.6" stroke-linecap="round" fill="none"/>
<path d="M404.8 369.5L405.5 369.5L406.2 369.5L407.0 369.5L407.7 369.5L408.4 369.5L409.1 369.5L409.9 369.5L410.6 369.5L411.3 369.5L412.0 369.5L412.7 369.5L413.5 369.5L414.2 369.5L414.9 369.5L415.6 369.5L416.3 369.5L417.1 369.5L417.8 369.5L418.5 369.5L419.2 369.5L420.0 369.5L420.7 369.5L421.4 369.5L422.1 369.5L422.8 369.5L423.6 369.5L424.3 369.5L425.0 369.5L425.7 369.5L426.4 369.5L427.2 369.5L427.9 369.5L428.6 369.5L429.3 369.5L430.1 369.5L430.8 369.5L431.5 369.5L432.2 369.5L432.9 369.5L433.7 369.5L434.4 369.5L435.1 369.5L435.8 369.4L436.6 369.4L437.3 369.4L438.0 369.4L438.7 369.4L439.4 369.4L440.2 369.3L440.9 369.3L441.6 369.3L442.3 369.2L443.0 369.2L443.8 369.1L444.5 369.0L445.2 369.0L445.9 368.9L446.7 368.7L447.4 368.6L448.1 368.5L448.8 368.3L449.5 368.1L450.3 367.9L451.0 367.6L451.7 367.4L452.4 367.0L453.1 366.7L453.9 366.3L454.6 365.8L455.3 365.3L456.0 364.7L456.8 364.1L457.5 363.3L458.2 362.5L458.9 361.7L459.6 360.7L460.4 359.6L461.1 358.5L461.8 357.2L462.5 355.8L463.2 354.3L464.0 352.6L464.7 350.9L465.4 349.0L466.1 346.9L466.9 344.7L467.6 342.3L468.3 339.8L469.0 337.2L469.7 334.3L470.5 331.4L471.2 328.2L471.9 324.9L472.6 321.5L473.4 317.9L474.1 314.2L474.8 310.4L475.5 306.4L476.2 302.4L477.0 298.2L477.7 294.0L478.4 289.7L479.1 285.3L479.8 280.9L480.6 276.5L481.3 272.2L482.0 267.8L482.7 263.6L483.5 259.4L484.2 255.3L484.9 251.3L485.6 247.5L486.3 243.8L487.1 240.4L487.8 237.1L488.5 234.1L489.2 231.4L489.9 228.9L490.7 226.8L491.4 224.9L492.1 223.4L492.8 222.2L493.6 221.3L494.3 220.8L495.0 220.6L495.7 220.8L496.4 221.3L497.2 222.2L497.9 223.4L498.6 224.9L499.3 226.8L500.1 228.9L500.8 231.4L501.5 234.1L502.2 237.1L502.9 240.4L503.7 243.8L504.4 247.5L505.1 251.3L505.8 255.3L506.5 259.4L507.3 263.6L508.0 267.8L508.7 272.2L509.4 276.5L510.2 280.9L510.9 285.3L511.6 289.7L512.3 294.0L513.0 298.2L513.8 302.4L514.5 306.4L515.2 310.4L515.9 314.2L516.6 317.9L517.4 321.5L518.1 324.9L518.8 328.2L519.5 331.4L520.3 334.3L521.0 337.2L521.7 339.8L522.4 342.3L523.1 344.7L523.9 346.9L524.6 349.0L525.3 350.9L526.0 352.6L526.8 354.3L527.5 355.8L528.2 357.2L528.9 358.5L529.6 359.6L530.4 360.7L531.1 361.7L531.8 362.5L532.5 363.3L533.2 364.1L534.0 364.7L534.7 365.3L535.4 365.8L536.1 366.3L536.9 366.7L537.6 367.0L538.3 367.4L539.0 367.6L539.7 367.9L540.5 368.1L541.2 368.3L541.9 368.5L542.6 368.6L543.3 368.7L544.1 368.9L544.8 369.0L545.5 369.0L546.2 369.1L547.0 369.2L547.7 369.2L548.4 369.3L549.1 369.3L549.8 369.3L550.6 369.4L551.3 369.4L552.0 369.4L552.7 369.4L553.4 369.4L554.2 369.4L554.9 369.5L555.6 369.5L556.3 369.5L557.1 369.5L557.8 369.5L558.5 369.5L559.2 369.5L559.9 369.5L560.7 369.5L561.4 369.5L562.1 369.5L562.8 369.5L563.6 369.5L564.3 369.5L565.0 369.5L565.7 369.5L566.4 369.5L567.2 369.5L567.9 369.5L568.6 369.5L569.3 369.5L570.0 369.5L570.8 369.5L571.5 369.5L572.2 369.5L572.9 369.5L573.7 369.5L574.4 369.5L575.1 369.5L575.8 369.5L576.5 369.5L577.3 369.5L578.0 369.5L578.7 369.5L579.4 369.5L580.1 369.5L580.9 369.5L581.6 369.5L582.3 369.5L583.0 369.5L583.8 369.5L584.5 369.5L585.2 369.5" stroke="#00f000" stroke-width="2.8" fill="none" stroke-linejoin="round"/>
<g font-family='"Liberation Serif", serif' font-size="22" fill="#000"><text x="422.8" y="396.4" text-anchor="middle">-0.2</text><text x="495.0" y="396.4" text-anchor="middle">0</text><text x="567.2" y="396.4" text-anchor="middle">0.2</text><text x="392.2" y="377.1" text-anchor="end">0</text><text x="392.2" y="348.1" text-anchor="end">2</text><text x="392.2" y="319.1" text-anchor="end">4</text><text x="392.2" y="290.1" text-anchor="end">6</text><text x="392.2" y="261.1" text-anchor="end">8</text><text x="392.2" y="232.1" text-anchor="end">10</text></g>
<text x="548.8" y="358.9" font-family='"Liberation Serif", serif' font-size="28" fill="#000">d</text>
<text transform="translate(366.7 310.4) rotate(-90)" font-family='"Liberation Serif", serif' font-size="27.6" fill="#000">P(d)</text>
</svg>
</body></html>
